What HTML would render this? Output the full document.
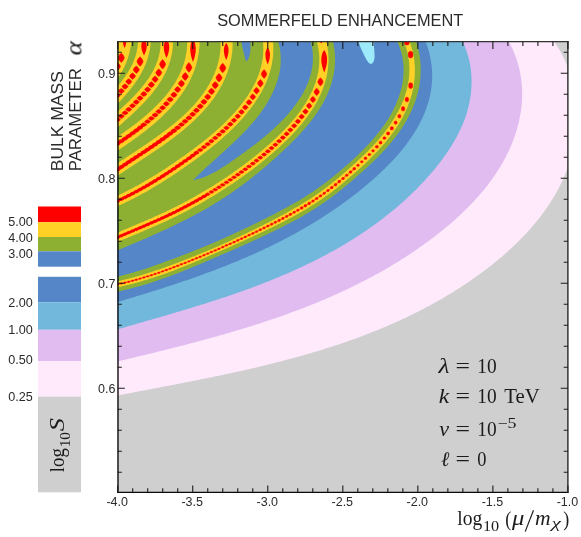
<!DOCTYPE html>
<html><head><meta charset="utf-8"><title>Sommerfeld enhancement</title>
<style>html,body{margin:0;padding:0;background:#fff}svg{display:block;will-change:transform}</style></head>
<body>
<svg width="581" height="537" viewBox="0 0 581 537">
<defs><clipPath id="cp"><rect x="117.5" y="41.5" width="451" height="450.5"/></clipPath></defs>
<rect width="581" height="537" fill="#fff"/>
<g clip-path="url(#cp)">
<rect x="110" y="35" width="470" height="465" fill="#cfcfcf"/>
<path d="M104.5,398 105.9,397.7 107.4,397.4 108.8,397.2 110.3,396.9 111.7,396.6 113.1,396.3 114.6,396 116,395.8 117.5,395.5 119,395.2 120.4,394.9 121.9,394.6 123.3,394.4 124.8,394.1 126.2,393.8 127.7,393.5 129.1,393.2 130.6,393 132.1,392.7 133.5,392.4 135,392.1 136.4,391.9 137.9,391.6 139.4,391.3 140.8,391 142.3,390.7 143.8,390.5 145.2,390.2 146.7,389.9 148.2,389.6 149.6,389.4 151.1,389.1 152.6,388.8 154,388.5 155.5,388.2 157,388 158.4,387.7 159.9,387.4 161.4,387.1 162.8,386.8 164.3,386.6 165.8,386.3 167.3,386 168.7,385.7 170.2,385.4 171.7,385.1 173.2,384.9 174.6,384.6 176.1,384.3 177.6,384 179.1,383.7 180.5,383.4 182,383.1 183.5,382.9 185,382.6 186.4,382.3 187.9,382 189.4,381.7 190.9,381.4 192.3,381.1 193.8,380.8 195.3,380.5 196.8,380.2 198.3,379.9 199.7,379.6 201.2,379.3 202.7,379 204.2,378.7 205.6,378.4 207.1,378.1 208.6,377.8 210.1,377.5 211.6,377.2 213,376.9 214.5,376.6 216,376.3 217.5,376 218.9,375.7 220.4,375.4 221.9,375.1 223.4,374.8 224.8,374.4 226.3,374.1 227.8,373.8 229.3,373.5 230.8,373.2 232.2,372.8 233.7,372.5 235.2,372.2 236.7,371.9 238.1,371.6 239.6,371.2 241.1,370.9 242.6,370.6 244,370.2 245.5,369.9 247,369.6 248.5,369.2 249.9,368.9 251.4,368.5 252.9,368.2 254.3,367.9 255.8,367.5 257.3,367.2 258.8,366.8 260.2,366.5 261.7,366.1 263.2,365.8 264.6,365.4 266.1,365 267.6,364.7 269,364.3 270.5,364 272,363.6 273.4,363.2 274.9,362.9 276.4,362.5 277.8,362.1 279.3,361.7 280.8,361.4 282.2,361 283.7,360.6 285.1,360.2 286.6,359.8 288.1,359.5 289.5,359.1 291,358.7 292.4,358.3 293.9,357.9 295.3,357.5 296.8,357.1 298.2,356.7 299.7,356.3 301.2,355.9 302.6,355.5 304.1,355 305.5,354.6 306.9,354.2 308.4,353.8 309.8,353.4 311.3,353 312.7,352.5 314.2,352.1 315.6,351.7 317.1,351.2 318.5,350.8 319.9,350.4 321.4,349.9 322.8,349.5 324.3,349 325.7,348.6 327.1,348.1 328.6,347.7 330,347.2 331.4,346.7 332.9,346.3 334.3,345.8 335.7,345.3 337.1,344.9 338.6,344.4 340,343.9 341.4,343.4 342.8,343 344.3,342.5 345.7,342 347.1,341.5 348.5,341 349.9,340.5 351.3,340 352.8,339.5 354.2,339 355.6,338.5 357,338 358.4,337.4 359.8,336.9 361.2,336.4 362.6,335.9 364,335.3 365.4,334.8 366.8,334.3 368.2,333.7 369.6,333.2 371,332.6 372.4,332.1 373.8,331.5 375.2,331 376.6,330.4 378,329.9 379.3,329.3 380.7,328.7 382.1,328.2 383.5,327.6 384.9,327 386.2,326.4 387.6,325.8 389,325.2 390.4,324.6 391.7,324 393.1,323.4 394.5,322.8 395.8,322.2 397.2,321.6 398.6,321 399.9,320.4 401.3,319.8 402.6,319.1 404,318.5 405.4,317.9 406.7,317.2 408.1,316.6 409.4,315.9 410.7,315.3 412.1,314.6 413.4,314 414.8,313.3 416.1,312.6 417.4,312 418.8,311.3 420.1,310.6 421.4,309.9 422.8,309.2 424.1,308.5 425.4,307.8 426.7,307.1 428.1,306.4 429.4,305.7 430.7,305 432,304.3 433.3,303.6 434.6,302.8 435.9,302.1 437.3,301.4 438.6,300.6 439.9,299.9 441.2,299.1 442.5,298.4 443.8,297.6 445,296.9 446.3,296.1 447.6,295.3 448.9,294.6 450.2,293.8 451.5,293 452.8,292.2 454,291.4 455.3,290.6 456.6,289.8 457.8,289 459.1,288.2 460.4,287.4 461.6,286.6 462.9,285.7 464.2,284.9 465.4,284.1 466.7,283.2 467.9,282.4 469.2,281.5 470.4,280.7 471.7,279.8 472.9,279 474.1,278.1 475.4,277.2 476.6,276.3 477.8,275.4 479.1,274.6 480.3,273.7 481.5,272.8 482.7,271.9 483.9,270.9 485.2,270 486.4,269.1 487.6,268.2 488.8,267.3 490,266.3 491.2,265.4 492.4,264.4 493.6,263.5 494.7,262.5 495.9,261.6 497.1,260.6 498.3,259.6 499.4,258.6 500.6,257.7 501.8,256.7 502.9,255.7 504.1,254.7 505.2,253.7 506.4,252.7 507.5,251.7 508.6,250.6 509.7,249.6 510.9,248.6 512,247.6 513.1,246.5 514.2,245.5 515.3,244.4 516.4,243.4 517.5,242.3 518.5,241.3 519.6,240.2 520.7,239.1 521.7,238 522.8,236.9 523.8,235.9 524.9,234.8 525.9,233.7 526.9,232.5 527.9,231.4 529,230.3 530,229.2 531,228.1 531.9,226.9 532.9,225.8 533.9,224.6 534.9,223.5 535.8,222.3 536.8,221.2 537.7,220 538.6,218.8 539.6,217.7 540.5,216.5 541.4,215.3 542.3,214.1 543.2,212.9 544,211.7 544.9,210.5 545.8,209.3 546.6,208.1 547.5,206.8 548.3,205.6 549.1,204.4 549.9,203.1 550.7,201.9 551.5,200.6 552.3,199.4 553.1,198.1 553.8,196.9 554.6,195.6 555.3,194.3 556,193 556.8,191.7 557.5,190.4 558.2,189.1 558.9,187.8 559.5,186.5 560.2,185.2 560.8,183.9 561.5,182.6 562.1,181.2 562.7,179.9 563.3,178.5 563.9,177.2 564.5,175.8 565.1,174.5 565.6,173.1 566.2,171.7 566.7,170.4 567.2,169 567.7,167.6 568.2,166.2 568.7,164.8 569.2,163.4 569.6,162 570.1,160.6 570.5,159.2 570.9,157.7 571.3,156.3 571.7,154.9 572.1,153.4 572.4,152 572.8,150.5 573.1,149.1 573.4,147.6 573.7,146.2 574,144.7 574.3,143.3 574.6,141.8 574.8,140.3 575,138.9 575.3,137.4 575.5,135.9 575.7,134.4 575.8,133 576,131.5 576.1,130 576.3,128.5 576.4,127 576.5,125.5 576.6,124.1 576.7,122.6 576.7,121.1 576.8,119.6 576.8,118.1 576.8,116.6 576.8,115.1 576.8,113.6 576.7,112.1 576.7,110.6 576.6,109.1 576.5,107.6 576.4,106.2 576.3,104.7 576.2,103.2 576.1,101.7 575.9,100.2 575.7,98.7 575.5,97.2 575.3,95.7 575.1,94.3 574.8,92.8 574.6,91.3 574.3,89.8 574,88.3 573.7,86.9 573.4,85.4 573,83.9 572.7,82.5 572.3,81 571.9,79.5 571.5,78.1 571.1,76.6 570.6,75.2 570.2,73.8 569.7,72.3 569.2,70.9 568.7,69.4 568.1,68 567.6,66.6 567,65.2 566.4,63.8 565.8,62.4 565.2,60.9 564.5,59.5 563.9,58.2 563.2,56.8 562.5,55.4 561.8,54 561.1,52.6 560.3,51.3 559.5,49.9 558.7,48.6 557.9,47.2 557.1,45.9 556.3,44.5 555.4,43.2 554.5,41.9 553.6,40.6 552.7,39.3 551.7,38 550.8,36.7 549.8,35.4 548.8,34.1 547.8,32.9 546.7,31.6 545.7,30.4 544.6,29.1 544.6,20 100,20 100,398Z" fill="#ffeafc"/>
<path d="M104.4,364.6 105.8,364.2 107.2,363.9 108.7,363.5 110.1,363.2 111.6,362.9 113,362.5 114.5,362.2 115.9,361.8 117.4,361.5 118.8,361.1 120.3,360.8 121.7,360.4 123.2,360.1 124.6,359.7 126.1,359.4 127.5,359.1 129,358.7 130.4,358.4 131.9,358 133.3,357.7 134.8,357.3 136.2,357 137.7,356.6 139.1,356.3 140.6,355.9 142.1,355.6 143.5,355.2 145,354.9 146.4,354.5 147.9,354.1 149.3,353.8 150.8,353.4 152.3,353.1 153.7,352.7 155.2,352.4 156.6,352 158.1,351.6 159.5,351.3 161,350.9 162.5,350.6 163.9,350.2 165.4,349.8 166.8,349.5 168.3,349.1 169.8,348.7 171.2,348.4 172.7,348 174.1,347.6 175.6,347.3 177,346.9 178.5,346.5 180,346.2 181.4,345.8 182.9,345.4 184.3,345 185.8,344.7 187.3,344.3 188.7,343.9 190.2,343.5 191.6,343.1 193.1,342.8 194.5,342.4 196,342 197.5,341.6 198.9,341.2 200.4,340.8 201.8,340.4 203.3,340 204.7,339.6 206.2,339.2 207.7,338.8 209.1,338.4 210.6,338 212,337.6 213.5,337.2 214.9,336.8 216.4,336.4 217.8,336 219.3,335.6 220.7,335.2 222.2,334.8 223.6,334.4 225.1,334 226.5,333.5 228,333.1 229.4,332.7 230.9,332.3 232.3,331.9 233.8,331.4 235.2,331 236.7,330.6 238.1,330.1 239.6,329.7 241,329.3 242.4,328.8 243.9,328.4 245.3,327.9 246.8,327.5 248.2,327.1 249.7,326.6 251.1,326.2 252.5,325.7 254,325.3 255.4,324.8 256.8,324.3 258.3,323.9 259.7,323.4 261.2,322.9 262.6,322.5 264,322 265.4,321.5 266.9,321.1 268.3,320.6 269.7,320.1 271.2,319.6 272.6,319.1 274,318.7 275.4,318.2 276.9,317.7 278.3,317.2 279.7,316.7 281.1,316.2 282.6,315.7 284,315.2 285.4,314.7 286.8,314.2 288.2,313.7 289.6,313.1 291.1,312.6 292.5,312.1 293.9,311.6 295.3,311.1 296.7,310.5 298.1,310 299.5,309.5 300.9,308.9 302.3,308.4 303.7,307.9 305.1,307.3 306.5,306.8 307.9,306.2 309.3,305.7 310.7,305.1 312.1,304.5 313.5,304 314.9,303.4 316.3,302.9 317.7,302.3 319.1,301.7 320.5,301.1 321.8,300.6 323.2,300 324.6,299.4 326,298.8 327.4,298.2 328.7,297.6 330.1,297 331.5,296.4 332.9,295.8 334.2,295.2 335.6,294.6 337,294 338.3,293.3 339.7,292.7 341.1,292.1 342.4,291.5 343.8,290.8 345.2,290.2 346.5,289.6 347.9,288.9 349.2,288.3 350.6,287.6 351.9,287 353.3,286.3 354.6,285.6 356,285 357.3,284.3 358.7,283.6 360,283 361.3,282.3 362.7,281.6 364,280.9 365.3,280.2 366.7,279.5 368,278.8 369.3,278.1 370.7,277.4 372,276.7 373.3,276 374.6,275.3 375.9,274.6 377.3,273.9 378.6,273.1 379.9,272.4 381.2,271.7 382.5,270.9 383.8,270.2 385.1,269.4 386.4,268.7 387.7,267.9 389,267.1 390.3,266.4 391.6,265.6 392.9,264.8 394.2,264.1 395.5,263.3 396.7,262.5 398,261.7 399.3,260.9 400.6,260.1 401.8,259.3 403.1,258.5 404.4,257.7 405.7,256.9 406.9,256 408.2,255.2 409.5,254.4 410.7,253.6 412,252.7 413.2,251.9 414.5,251 415.7,250.2 417,249.3 418.2,248.5 419.5,247.6 420.7,246.7 421.9,245.8 423.2,245 424.4,244.1 425.6,243.2 426.9,242.3 428.1,241.4 429.3,240.5 430.5,239.6 431.7,238.7 433,237.7 434.2,236.8 435.4,235.9 436.6,235 437.8,234 439,233.1 440.2,232.1 441.4,231.2 442.5,230.2 443.7,229.3 444.9,228.3 446.1,227.3 447.3,226.3 448.4,225.4 449.6,224.4 450.7,223.4 451.9,222.4 453,221.4 454.2,220.4 455.3,219.4 456.5,218.3 457.6,217.3 458.7,216.3 459.8,215.3 460.9,214.2 462,213.2 463.1,212.1 464.2,211.1 465.3,210 466.4,209 467.5,207.9 468.5,206.8 469.6,205.7 470.7,204.6 471.7,203.6 472.7,202.5 473.8,201.4 474.8,200.2 475.8,199.1 476.8,198 477.8,196.9 478.8,195.8 479.8,194.6 480.8,193.5 481.8,192.3 482.7,191.2 483.7,190 484.6,188.9 485.6,187.7 486.5,186.5 487.4,185.4 488.3,184.2 489.2,183 490.1,181.8 491,180.6 491.9,179.4 492.7,178.2 493.6,177 494.4,175.7 495.3,174.5 496.1,173.3 496.9,172.1 497.7,170.8 498.5,169.6 499.3,168.3 500.1,167 500.8,165.8 501.6,164.5 502.3,163.2 503.1,161.9 503.8,160.6 504.5,159.3 505.2,158 505.9,156.7 506.5,155.4 507.2,154.1 507.9,152.8 508.5,151.4 509.1,150.1 509.7,148.8 510.3,147.4 510.9,146.1 511.5,144.7 512,143.3 512.6,142 513.1,140.6 513.6,139.2 514.1,137.8 514.6,136.4 515.1,135 515.6,133.7 516,132.2 516.5,130.8 516.9,129.4 517.3,128 517.7,126.6 518.1,125.2 518.4,123.7 518.8,122.3 519.1,120.9 519.4,119.4 519.7,118 520,116.6 520.3,115.1 520.5,113.7 520.7,112.2 521,110.8 521.2,109.3 521.3,107.9 521.5,106.4 521.6,104.9 521.8,103.5 521.9,102 522,100.5 522,99.1 522.1,97.6 522.1,96.1 522.2,94.7 522.2,93.2 522.1,91.7 522.1,90.2 522,88.8 522,87.3 521.9,85.8 521.8,84.3 521.6,82.9 521.5,81.4 521.3,79.9 521.1,78.4 520.9,76.9 520.6,75.5 520.4,74 520.1,72.5 519.8,71.1 519.5,69.6 519.1,68.1 518.7,66.6 518.4,65.2 517.9,63.7 517.5,62.2 517.1,60.8 516.6,59.3 516.1,57.8 515.6,56.4 515,54.9 514.4,53.5 513.8,52 513.2,50.6 512.6,49.1 511.9,47.7 511.2,46.2 510.5,44.8 509.8,43.4 509,41.9 508.2,40.5 507.4,39.1 506.6,37.7 505.7,36.3 504.8,34.8 503.9,33.4 503,32 502,30.6 501,29.2 501,20 100,20 100,364.6Z" fill="#e0bcf0"/>
<path d="M104.1,333.2 105.5,332.8 107,332.4 108.4,332 109.8,331.5 111.3,331.1 112.7,330.7 114.2,330.3 115.6,329.9 117.1,329.5 118.5,329 119.9,328.6 121.4,328.2 122.8,327.8 124.3,327.4 125.7,327 127.2,326.5 128.6,326.1 130.1,325.7 131.5,325.3 133,324.9 134.4,324.5 135.9,324.1 137.3,323.6 138.8,323.2 140.2,322.8 141.7,322.4 143.1,322 144.6,321.6 146,321.1 147.5,320.7 148.9,320.3 150.4,319.9 151.8,319.5 153.3,319.1 154.7,318.6 156.2,318.2 157.7,317.8 159.1,317.4 160.6,317 162,316.5 163.5,316.1 164.9,315.7 166.4,315.3 167.8,314.8 169.3,314.4 170.7,314 172.2,313.6 173.6,313.1 175.1,312.7 176.5,312.3 178,311.8 179.4,311.4 180.9,311 182.3,310.5 183.8,310.1 185.2,309.7 186.7,309.2 188.1,308.8 189.6,308.4 191,307.9 192.5,307.5 193.9,307 195.3,306.6 196.8,306.1 198.2,305.7 199.7,305.2 201.1,304.8 202.6,304.3 204,303.9 205.4,303.4 206.9,303 208.3,302.5 209.8,302.1 211.2,301.6 212.6,301.1 214.1,300.7 215.5,300.2 217,299.7 218.4,299.3 219.8,298.8 221.3,298.3 222.7,297.8 224.1,297.4 225.6,296.9 227,296.4 228.4,295.9 229.8,295.4 231.3,294.9 232.7,294.5 234.1,294 235.6,293.5 237,293 238.4,292.5 239.8,292 241.2,291.5 242.7,291 244.1,290.4 245.5,289.9 246.9,289.4 248.3,288.9 249.7,288.4 251.2,287.9 252.6,287.3 254,286.8 255.4,286.3 256.8,285.8 258.2,285.2 259.6,284.7 261,284.2 262.4,283.6 263.8,283.1 265.2,282.5 266.6,282 268,281.4 269.4,280.9 270.8,280.3 272.2,279.7 273.6,279.2 275,278.6 276.4,278 277.8,277.5 279.2,276.9 280.5,276.3 281.9,275.7 283.3,275.1 284.7,274.5 286.1,274 287.4,273.4 288.8,272.8 290.2,272.2 291.6,271.5 292.9,270.9 294.3,270.3 295.7,269.7 297,269.1 298.4,268.5 299.8,267.8 301.1,267.2 302.5,266.6 303.8,265.9 305.2,265.3 306.5,264.6 307.9,264 309.2,263.3 310.6,262.7 311.9,262 313.3,261.4 314.6,260.7 315.9,260 317.3,259.3 318.6,258.7 319.9,258 321.3,257.3 322.6,256.6 323.9,255.9 325.3,255.2 326.6,254.5 327.9,253.8 329.2,253.1 330.5,252.3 331.8,251.6 333.2,250.9 334.5,250.2 335.8,249.4 337.1,248.7 338.4,247.9 339.7,247.2 341,246.4 342.3,245.7 343.6,244.9 344.8,244.2 346.1,243.4 347.4,242.6 348.7,241.8 350,241 351.3,240.3 352.5,239.5 353.8,238.7 355.1,237.9 356.3,237 357.6,236.2 358.9,235.4 360.1,234.6 361.4,233.8 362.6,232.9 363.9,232.1 365.1,231.2 366.4,230.4 367.6,229.5 368.9,228.7 370.1,227.8 371.3,226.9 372.6,226.1 373.8,225.2 375,224.3 376.3,223.4 377.5,222.5 378.7,221.6 379.9,220.7 381.1,219.8 382.3,218.9 383.5,217.9 384.7,217 385.9,216.1 387.1,215.1 388.3,214.2 389.5,213.2 390.7,212.3 391.9,211.3 393,210.4 394.2,209.4 395.4,208.4 396.5,207.4 397.7,206.4 398.8,205.5 400,204.5 401.1,203.5 402.3,202.4 403.4,201.4 404.6,200.4 405.7,199.4 406.8,198.4 407.9,197.3 409,196.3 410.1,195.2 411.2,194.2 412.3,193.1 413.4,192.1 414.5,191 415.6,189.9 416.7,188.9 417.7,187.8 418.8,186.7 419.9,185.6 420.9,184.5 422,183.4 423,182.3 424.1,181.2 425.1,180 426.1,178.9 427.1,177.8 428.1,176.6 429.1,175.5 430.1,174.4 431.1,173.2 432.1,172 433.1,170.9 434.1,169.7 435.1,168.5 436,167.4 437,166.2 437.9,165 438.9,163.8 439.8,162.6 440.7,161.4 441.6,160.2 442.5,158.9 443.4,157.7 444.3,156.5 445.2,155.3 446.1,154 446.9,152.8 447.8,151.5 448.6,150.3 449.4,149 450.3,147.7 451.1,146.5 451.9,145.2 452.6,143.9 453.4,142.6 454.2,141.3 454.9,140 455.6,138.7 456.4,137.4 457.1,136.1 457.8,134.8 458.4,133.4 459.1,132.1 459.7,130.8 460.4,129.4 461,128.1 461.6,126.7 462.2,125.4 462.8,124 463.3,122.6 463.9,121.3 464.4,119.9 464.9,118.5 465.4,117.1 465.9,115.7 466.3,114.3 466.8,112.9 467.2,111.5 467.6,110.1 468,108.6 468.3,107.2 468.7,105.8 469,104.3 469.3,102.9 469.6,101.5 469.9,100 470.1,98.6 470.4,97.1 470.6,95.7 470.8,94.2 471,92.8 471.1,91.3 471.2,89.8 471.3,88.4 471.4,86.9 471.5,85.4 471.5,83.9 471.6,82.5 471.6,81 471.6,79.5 471.5,78 471.4,76.6 471.4,75.1 471.2,73.6 471.1,72.1 470.9,70.6 470.8,69.1 470.6,67.7 470.3,66.2 470.1,64.7 469.8,63.2 469.5,61.7 469.2,60.2 468.8,58.8 468.4,57.3 468,55.8 467.6,54.3 467.1,52.9 466.7,51.4 466.1,49.9 465.6,48.4 465,47 464.5,45.5 463.8,44 463.2,42.6 462.5,41.1 461.8,39.7 461.1,38.2 460.3,36.8 459.6,35.3 458.7,33.9 457.9,32.4 457,31 456.1,29.6 456.1,20 100,20 100,333.2Z" fill="#72b8dc"/>
<path d="M103.9,306 105.4,305.6 106.8,305.1 108.3,304.7 109.7,304.3 111.2,303.9 112.7,303.4 114.1,303 115.6,302.6 117,302.1 118.5,301.7 119.9,301.3 121.4,300.9 122.8,300.4 124.3,300 125.7,299.6 127.2,299.1 128.6,298.7 130.1,298.2 131.5,297.8 133,297.4 134.4,296.9 135.9,296.5 137.3,296.1 138.8,295.6 140.2,295.2 141.6,294.7 143.1,294.3 144.5,293.8 146,293.4 147.4,292.9 148.9,292.5 150.3,292.1 151.7,291.6 153.2,291.1 154.6,290.7 156.1,290.2 157.5,289.8 158.9,289.3 160.4,288.9 161.8,288.4 163.3,288 164.7,287.5 166.1,287 167.6,286.6 169,286.1 170.4,285.6 171.9,285.2 173.3,284.7 174.7,284.2 176.1,283.7 177.6,283.3 179,282.8 180.4,282.3 181.9,281.8 183.3,281.3 184.7,280.8 186.1,280.4 187.5,279.9 189,279.4 190.4,278.9 191.8,278.4 193.2,277.9 194.6,277.4 196.1,276.9 197.5,276.4 198.9,275.9 200.3,275.4 201.7,274.9 203.1,274.4 204.5,273.8 205.9,273.3 207.4,272.8 208.8,272.3 210.2,271.8 211.6,271.2 213,270.7 214.4,270.2 215.8,269.7 217.2,269.1 218.6,268.6 220,268 221.4,267.5 222.8,267 224.2,266.4 225.6,265.9 227,265.3 228.3,264.8 229.7,264.2 231.1,263.6 232.5,263.1 233.9,262.5 235.3,261.9 236.7,261.4 238,260.8 239.4,260.2 240.8,259.6 242.2,259 243.6,258.5 244.9,257.9 246.3,257.3 247.7,256.7 249.1,256.1 250.4,255.5 251.8,254.9 253.2,254.3 254.5,253.7 255.9,253 257.3,252.4 258.6,251.8 260,251.2 261.3,250.5 262.7,249.9 264,249.3 265.4,248.6 266.7,248 268.1,247.4 269.4,246.7 270.8,246.1 272.1,245.4 273.5,244.7 274.8,244.1 276.2,243.4 277.5,242.7 278.8,242.1 280.2,241.4 281.5,240.7 282.9,240 284.2,239.3 285.5,238.6 286.8,238 288.2,237.2 289.5,236.5 290.8,235.8 292.1,235.1 293.5,234.4 294.8,233.7 296.1,233 297.4,232.2 298.7,231.5 300,230.8 301.3,230 302.6,229.3 303.9,228.5 305.2,227.8 306.5,227 307.8,226.3 309.1,225.5 310.4,224.7 311.7,223.9 313,223.2 314.3,222.4 315.6,221.6 316.9,220.8 318.2,220 319.4,219.2 320.7,218.4 322,217.6 323.3,216.8 324.5,215.9 325.8,215.1 327.1,214.3 328.4,213.5 329.6,212.6 330.9,211.8 332.1,210.9 333.4,210.1 334.7,209.2 335.9,208.3 337.2,207.5 338.4,206.6 339.7,205.7 340.9,204.8 342.1,203.9 343.4,203.1 344.6,202.2 345.9,201.3 347.1,200.3 348.3,199.4 349.6,198.5 350.8,197.6 352,196.7 353.2,195.7 354.5,194.8 355.7,193.8 356.9,192.9 358.1,191.9 359.3,191 360.5,190 361.7,189 362.9,188 364.1,187.1 365.3,186.1 366.5,185.1 367.7,184.1 368.9,183.1 370.1,182 371.3,181 372.4,180 373.6,179 374.8,177.9 375.9,176.9 377.1,175.9 378.2,174.8 379.4,173.8 380.5,172.7 381.6,171.6 382.7,170.6 383.9,169.5 385,168.4 386.1,167.3 387.2,166.2 388.2,165.1 389.3,164 390.4,162.9 391.5,161.8 392.5,160.7 393.6,159.6 394.6,158.4 395.6,157.3 396.6,156.2 397.6,155 398.6,153.9 399.6,152.7 400.6,151.5 401.6,150.4 402.5,149.2 403.5,148 404.4,146.9 405.3,145.7 406.2,144.5 407.1,143.3 408,142.1 408.9,140.9 409.7,139.6 410.6,138.4 411.4,137.2 412.3,136 413.1,134.7 413.9,133.5 414.6,132.3 415.4,131 416.2,129.8 416.9,128.5 417.6,127.2 418.3,126 419,124.7 419.7,123.4 420.4,122.1 421,120.8 421.7,119.5 422.3,118.2 422.9,116.9 423.5,115.6 424,114.3 424.6,113 425.1,111.7 425.6,110.3 426.1,109 426.6,107.6 427.1,106.3 427.5,104.9 427.9,103.6 428.3,102.2 428.7,100.9 429.1,99.5 429.4,98.1 429.8,96.7 430.1,95.3 430.4,94 430.6,92.6 430.9,91.2 431.1,89.7 431.3,88.3 431.5,86.9 431.7,85.5 431.8,84.1 431.9,82.6 432,81.2 432.1,79.8 432.1,78.3 432.2,76.9 432.2,75.4 432.2,74 432.1,72.5 432,71 432,69.6 431.8,68.1 431.7,66.6 431.5,65.1 431.3,63.7 431.1,62.2 430.9,60.7 430.6,59.2 430.3,57.7 430,56.2 429.7,54.7 429.3,53.1 428.9,51.6 428.4,50.1 428,48.6 427.5,47.1 427,45.5 426.5,44 425.9,42.5 425.3,40.9 424.6,39.4 424,37.8 423.3,36.3 422.6,34.7 421.8,33.2 421,31.6 420.2,30.1 419.4,28.5 419.4,20 100,20 100,306Z" fill="#5486c8"/>
<path d="M356.5,35.9 356.8,37 357.2,38 357.5,39 357.8,40 358.1,41 358.5,42 358.8,42.9 359.2,43.9 359.5,44.8 359.9,45.7 360.2,46.6 360.6,47.5 361,48.5 361.4,49.4 361.8,50.3 362.2,51.2 362.6,52.1 363.1,53 363.5,54 364,54.9 364.5,55.9 365,56.9 365.5,57.8 366,58.9 366.6,59.9 367.2,60.8 367.8,61.8 368.5,62.6 369.2,63.2 369.9,63.6 370.7,63.9 371.5,63.8 372.3,63.3 372.9,62.6 373.5,61.8 373.9,60.8 374.2,59.8 374.4,58.8 374.5,57.7 374.6,56.6 374.6,55.5 374.5,54.4 374.5,53.4 374.4,52.3 374.3,51.2 374.3,50.2 374.2,49.2 374.1,48.2 374,47.2 374,46.1 373.9,45.1 373.8,44.1 373.7,43.1 373.7,42.1 373.6,41.1 373.5,40.1 373.5,39.1 373.5,38.1 373.4,37 373.4,36Z" fill="#9debfa"/>
<path d="M104,255.8 105.4,255.3 106.8,254.7 108.2,254.1 109.5,253.6 110.9,253 112.3,252.4 113.7,251.9 115.1,251.3 116.4,250.7 117.8,250.1 119.2,249.6 120.6,249 122,248.4 123.4,247.8 124.8,247.3 126.2,246.7 127.5,246.1 128.9,245.5 130.3,244.9 131.7,244.3 133.1,243.7 134.5,243.2 135.9,242.6 137.3,242 138.7,241.4 140.1,240.8 141.5,240.2 142.9,239.6 144.3,239 145.7,238.4 147,237.8 148.4,237.2 149.8,236.5 151.2,235.9 152.6,235.3 154,234.7 155.4,234.1 156.8,233.5 158.2,232.8 159.6,232.2 160.9,231.6 162.3,230.9 163.7,230.3 165.1,229.7 166.5,229 167.9,228.4 169.2,227.7 170.6,227.1 172,226.4 173.4,225.8 174.7,225.1 176.1,224.4 177.5,223.8 178.8,223.1 180.2,222.4 181.6,221.8 182.9,221.1 184.3,220.4 185.6,219.7 187,219 188.4,218.3 189.7,217.6 191,216.9 192.4,216.2 193.7,215.5 195.1,214.8 196.4,214.1 197.7,213.4 199.1,212.6 200.4,211.9 201.7,211.2 203,210.4 204.4,209.7 205.7,208.9 207,208.2 208.3,207.4 209.6,206.7 210.9,205.9 212.2,205.1 213.5,204.4 214.8,203.6 216,202.8 217.3,202 218.6,201.2 219.9,200.4 221.1,199.6 222.4,198.8 223.7,198 224.9,197.2 226.2,196.4 227.4,195.5 228.7,194.7 229.9,193.9 231.1,193 232.4,192.2 233.6,191.3 234.8,190.4 236,189.6 237.3,188.7 238.5,187.8 239.7,187 240.9,186.1 242.1,185.2 243.3,184.3 244.5,183.4 245.7,182.5 246.9,181.6 248.1,180.7 249.2,179.8 250.4,178.8 251.6,177.9 252.8,177 254,176.1 255.1,175.1 256.3,174.2 257.5,173.2 258.6,172.3 259.8,171.3 260.9,170.3 262.1,169.4 263.3,168.4 264.4,167.4 265.6,166.5 266.7,165.5 267.9,164.5 269,163.5 270.1,162.5 271.3,161.5 272.4,160.5 273.6,159.5 274.7,158.5 275.8,157.4 277,156.4 278.1,155.4 279.2,154.3 280.3,153.3 281.5,152.3 282.6,151.2 283.7,150.2 284.8,149.1 286,148.1 287.1,147 288.2,145.9 289.3,144.9 290.4,143.8 291.5,142.7 292.6,141.6 293.7,140.5 294.8,139.4 295.8,138.3 296.9,137.2 298,136.1 299,135 300.1,133.9 301.1,132.7 302.1,131.6 303.2,130.4 304.2,129.3 305.2,128.1 306.2,127 307.2,125.8 308.1,124.6 309.1,123.5 310,122.3 311,121.1 311.9,119.9 312.8,118.7 313.7,117.5 314.6,116.3 315.5,115 316.4,113.8 317.2,112.6 318,111.3 318.8,110.1 319.6,108.8 320.4,107.5 321.2,106.3 322,105 322.7,103.7 323.4,102.4 324.1,101.1 324.8,99.8 325.5,98.4 326.1,97.1 326.7,95.8 327.3,94.4 327.9,93.1 328.5,91.7 329,90.3 329.5,89 330.1,87.6 330.5,86.2 331,84.8 331.4,83.3 331.8,81.9 332.2,80.5 332.6,79.1 332.9,77.6 333.3,76.1 333.5,74.7 333.8,73.2 334.1,71.7 334.3,70.2 334.5,68.8 334.6,67.3 334.8,65.8 334.9,64.3 334.9,62.8 335,61.2 335,59.7 335,58.2 335,56.7 334.9,55.2 334.8,53.6 334.7,52.1 334.5,50.6 334.4,49.1 334.1,47.5 333.9,46 333.6,44.5 333.3,42.9 332.9,41.4 332.6,39.9 332.1,38.4 331.7,36.9 331.2,35.3 330.7,33.8 100,34 100,255Z" fill="#8db033"/>
<path d="M193.2,180.1 194.2,179.1 195.3,178 196.3,177 197.4,175.9 198.4,174.9 199.5,173.8 200.6,172.8 201.7,171.7 202.8,170.7 203.9,169.7 205,168.6 206.1,167.6 207.2,166.6 208.3,165.6 209.4,164.5 210.6,163.5 211.7,162.5 212.8,161.5 213.9,160.4 215.1,159.4 216.2,158.4 217.3,157.4 218.5,156.3 219.6,155.3 220.7,154.3 221.9,153.3 223,152.2 224.1,151.2 225.3,150.2 226.4,149.1 227.5,148.1 228.7,147.1 229.8,146 230.9,145 232,143.9 233.1,142.9 234.3,141.8 235.4,140.8 236.5,139.7 237.6,138.7 238.7,137.6 239.7,136.5 240.8,135.4 241.9,134.3 243,133.3 244,132.2 245.1,131.1 246.1,130 247.2,128.9 248.2,127.7 249.2,126.6 250.3,125.5 251.3,124.3 252.3,123.2 253.2,122 254.2,120.9 255.2,119.7 256.1,118.5 257.1,117.4 258,116.2 258.9,115 259.9,113.8 260.8,112.5 261.6,111.3 262.5,110.1 263.4,108.8 264.2,107.6 265.1,106.3 265.9,105 266.7,103.7 267.5,102.5 268.2,101.1 269,99.8 269.7,98.5 270.4,97.2 271.2,95.8 271.8,94.5 272.5,93.1 273.1,91.7 273.8,90.3 274.4,89 274.9,87.6 275.5,86.1 276,84.7 276.5,83.3 277,81.9 277.5,80.5 277.9,79 278.3,77.6 278.7,76.1 279,74.7 279.3,73.2 279.6,71.7 279.9,70.2 280.1,68.8 280.3,67.3 280.5,65.8 280.6,64.3 280.7,62.8 280.7,61.3 280.8,59.8 280.7,58.3 280.7,56.8 280.6,55.2 280.5,53.7 280.3,52.2 280.1,50.7 279.9,49.1 279.6,47.6 279.3,46.1 278.9,44.6 278.6,43 278.2,41.5 277.8,40 277.4,38.5 277.1,36.9 276.7,35.4 276.4,33.9 308.3,33.7 308.9,35.3 309.4,36.9 310,38.5 310.4,40.1 310.9,41.7 311.2,43.2 311.6,44.8 311.9,46.4 312.2,47.9 312.4,49.5 312.6,51 312.7,52.5 312.8,54.1 312.9,55.6 312.9,57.1 312.9,58.6 312.9,60.1 312.8,61.6 312.7,63.1 312.5,64.5 312.4,66 312.2,67.5 311.9,68.9 311.6,70.3 311.3,71.8 311,73.2 310.6,74.6 310.2,76 309.8,77.5 309.4,78.8 308.9,80.2 308.4,81.6 307.8,83 307.3,84.4 306.7,85.7 306.1,87.1 305.5,88.4 304.8,89.7 304.1,91.1 303.4,92.4 302.7,93.7 302,95 301.2,96.3 300.4,97.6 299.6,98.8 298.8,100.1 297.9,101.3 297.1,102.6 296.2,103.8 295.3,105.1 294.4,106.3 293.5,107.5 292.5,108.7 291.6,109.9 290.6,111.1 289.6,112.2 288.6,113.4 287.6,114.6 286.6,115.7 285.6,116.9 284.5,118 283.5,119.1 282.4,120.2 281.4,121.3 280.3,122.4 279.2,123.5 278.1,124.5 277,125.6 275.9,126.6 274.8,127.7 273.7,128.7 272.6,129.7 271.5,130.8 270.4,131.8 269.2,132.8 268.1,133.8 266.9,134.8 265.8,135.7 264.6,136.7 263.4,137.7 262.3,138.6 261.1,139.6 259.9,140.5 258.7,141.5 257.6,142.4 256.4,143.3 255.2,144.2 254,145.2 252.8,146.1 251.6,147 250.4,147.9 249.1,148.8 247.9,149.7 246.7,150.6 245.5,151.5 244.3,152.4 243,153.2 241.8,154.1 240.6,155 239.3,155.9 238.1,156.7 236.9,157.6 235.6,158.5 234.4,159.4 233.2,160.2 231.9,161.1 230.7,162 229.4,162.8 228.2,163.7 226.9,164.5 225.7,165.4 224.4,166.2 223.1,167 221.9,167.8 220.6,168.6 219.3,169.4 218,170.2 216.7,170.9 215.4,171.7 214.1,172.4 212.8,173.1 211.4,173.8 210.1,174.5 208.7,175.1 207.4,175.7 206,176.3 204.6,176.9 203.2,177.4 201.8,177.9 200.3,178.4 198.9,178.8 197.4,179.2 196,179.6 194.5,180 193,180.3Z" fill="#5486c8"/>
<path d="M241,34 241,35.1 241,36.1 241,37.2 241,38.2 241.1,39.3 241.2,40.3 241.3,41.4 241.5,42.4 241.7,43.5 241.8,44.5 242,45.6 242.2,46.6 242.5,47.6 242.7,48.7 242.9,49.7 243.2,50.7 243.4,51.8 243.7,52.8 244,53.8 244.2,54.8 244.5,55.9 244.8,56.9 245,57.9 245.3,58.9 245.5,60 245.8,61 246,62 246,62 246.7,61.1 247.4,60.2 248,59.3 248.5,58.4 248.9,57.4 249.3,56.4 249.6,55.4 249.8,54.4 250,53.4 250.2,52.3 250.3,51.3 250.4,50.2 250.5,49.2 250.5,48.1 250.5,47 250.5,45.9 250.4,44.8 250.4,43.7 250.4,42.6 250.3,41.5 250.3,40.4 250.3,39.3 250.2,38.2 250.2,37.2 250.3,36.1 250.3,35 250.4,34Z" fill="#5486c8"/>
<path d="M102.7,279.5 103.7,279.4 104.7,279.2 105.7,279 106.6,278.8 107.6,278.6 108.6,278.5 109.5,278.3 110.5,278.1 111.5,277.9 112.4,277.7 113.4,277.5 114.3,277.3 115.3,277 116.3,276.8 117.2,276.6 118.2,276.4 119.1,276.2 120.1,275.9 121,275.7 122,275.5 122.9,275.2 123.9,275 124.8,274.7 125.8,274.5 126.7,274.2 127.7,274 128.6,273.7 129.6,273.5 130.5,273.2 131.5,272.9 132.4,272.7 133.4,272.4 134.3,272.1 135.2,271.9 136.2,271.6 137.1,271.3 138,271 139,270.7 139.9,270.4 140.9,270.2 141.8,269.9 142.7,269.6 143.7,269.3 144.6,269 145.5,268.7 146.5,268.4 147.4,268 148.3,267.7 149.2,267.4 150.2,267.1 151.1,266.8 152,266.5 153,266.1 153.9,265.8 154.8,265.5 155.7,265.2 156.7,264.8 157.6,264.5 158.5,264.2 159.4,263.8 160.4,263.5 161.3,263.2 162.2,262.8 163.1,262.5 164.1,262.1 165,261.8 165.9,261.5 166.8,261.1 167.8,260.8 168.7,260.5 169.6,260.1 170.6,259.8 171.5,259.5 172.4,259.1 173.3,258.8 174.3,258.4 175.2,258.1 176.1,257.8 177,257.4 178,257.1 178.9,256.7 179.8,256.4 180.8,256 181.7,255.6 182.6,255.3 183.5,254.9 184.5,254.6 185.4,254.2 186.3,253.9 187.2,253.5 188.2,253.1 189.1,252.8 190,252.4 190.9,252 191.9,251.7 192.8,251.3 193.7,250.9 194.6,250.6 195.6,250.2 196.5,249.8 197.4,249.4 198.3,249.1 199.3,248.7 200.2,248.3 201.1,247.9 202,247.6 203,247.2 203.9,246.8 204.8,246.4 205.7,246 206.7,245.7 207.6,245.3 208.5,244.9 209.4,244.5 210.4,244.1 211.3,243.8 212.2,243.4 213.1,243 214,242.6 215,242.2 215.9,241.8 216.8,241.4 217.7,241 218.6,240.6 219.5,240.2 220.5,239.8 221.4,239.4 222.3,239 223.2,238.6 224.1,238.2 225,237.7 225.9,237.3 226.8,236.9 227.7,236.5 228.7,236.1 229.6,235.7 230.5,235.3 231.4,234.8 232.3,234.4 233.2,234 234.1,233.6 235,233.2 235.9,232.8 236.8,232.3 237.7,231.9 238.6,231.5 239.6,231.1 240.5,230.6 241.4,230.2 242.3,229.8 243.2,229.4 244.1,228.9 245,228.5 245.9,228.1 246.8,227.7 247.7,227.2 248.6,226.8 249.5,226.4 250.4,225.9 251.3,225.5 252.2,225.1 253.1,224.6 254,224.2 254.9,223.7 255.8,223.3 256.7,222.9 257.6,222.4 258.5,222 259.4,221.6 260.3,221.1 261.1,220.7 262,220.2 262.9,219.8 263.8,219.3 264.7,218.9 265.6,218.4 266.5,218 267.4,217.5 268.3,217.1 269.2,216.6 270,216.2 270.9,215.7 271.8,215.3 272.7,214.8 273.6,214.4 274.5,213.9 275.3,213.5 276.2,213 277.1,212.6 278,212.1 278.8,211.6 279.7,211.2 280.6,210.7 281.5,210.2 282.3,209.8 283.2,209.3 284.1,208.8 284.9,208.4 285.8,207.9 286.7,207.4 287.5,207 288.4,206.5 289.2,206 290.1,205.5 291,205.1 291.8,204.6 292.7,204.1 293.5,203.6 294.4,203.1 295.2,202.7 296.1,202.2 296.9,201.7 297.7,201.2 298.6,200.7 299.4,200.2 300.3,199.7 301.1,199.2 301.9,198.7 302.8,198.2 303.6,197.7 304.4,197.2 305.2,196.7 306.1,196.2 306.9,195.6 307.7,195.1 308.5,194.6 309.3,194.1 310.1,193.5 310.9,193 311.7,192.5 312.5,191.9 313.3,191.4 314.1,190.9 314.9,190.3 315.7,189.8 316.5,189.2 317.3,188.7 318.1,188.1 318.9,187.5 319.7,187 320.5,186.4 321.2,185.8 322,185.3 322.8,184.7 323.6,184.1 324.4,183.5 325.1,183 325.9,182.4 326.7,181.8 327.5,181.2 328.2,180.6 329,180 329.8,179.4 330.5,178.8 331.3,178.2 332.1,177.6 332.8,176.9 333.6,176.3 334.3,175.7 335.1,175.1 335.9,174.5 336.6,173.8 337.4,173.2 338.1,172.6 338.9,172 339.7,171.3 340.4,170.7 341.2,170 341.9,169.4 342.7,168.8 343.4,168.1 344.2,167.5 344.9,166.8 345.7,166.1 346.4,165.5 347.2,164.8 347.9,164.2 348.7,163.5 349.4,162.9 350.2,162.2 350.9,161.5 351.6,160.8 352.4,160.2 353.1,159.5 353.8,158.8 354.6,158.1 355.3,157.4 356,156.7 356.7,156 357.5,155.4 358.2,154.7 358.9,154 359.6,153.3 360.3,152.6 361,151.9 361.7,151.2 362.4,150.5 363.1,149.8 363.8,149.1 364.5,148.4 365.2,147.6 365.9,146.9 366.6,146.2 367.2,145.5 367.9,144.8 368.6,144.1 369.2,143.4 369.9,142.6 370.6,141.9 371.2,141.2 371.9,140.4 372.5,139.7 373.2,139 373.8,138.3 374.4,137.5 375.1,136.8 375.7,136 376.3,135.3 376.9,134.5 377.5,133.8 378.1,133 378.7,132.3 379.3,131.5 379.9,130.8 380.5,130 381.1,129.3 381.7,128.5 382.2,127.7 382.8,127 383.3,126.2 383.9,125.4 384.4,124.7 385,123.9 385.5,123.1 386,122.3 386.5,121.5 387.1,120.8 387.6,120 388.1,119.2 388.6,118.4 389,117.6 389.5,116.8 390,116 390.5,115.2 390.9,114.4 391.4,113.6 391.8,112.8 392.3,112 392.7,111.1 393.1,110.3 393.5,109.5 393.9,108.7 394.3,107.8 394.7,107 395.1,106.2 395.5,105.4 395.9,104.5 396.2,103.7 396.6,102.8 396.9,102 397.3,101.1 397.6,100.3 397.9,99.4 398.2,98.6 398.5,97.7 398.8,96.9 399.1,96 399.4,95.1 399.7,94.3 399.9,93.4 400.2,92.5 400.5,91.7 400.7,90.8 400.9,89.9 401.2,89.1 401.4,88.2 401.6,87.3 401.8,86.4 402,85.5 402.1,84.7 402.3,83.8 402.4,82.9 402.6,82 402.7,81.1 402.9,80.3 403,79.4 403.1,78.5 403.2,77.6 403.3,76.7 403.3,75.8 403.4,74.9 403.5,74 403.5,73.2 403.5,72.3 403.5,71.4 403.6,70.5 403.6,69.6 403.5,68.7 403.5,67.8 403.5,66.9 403.4,66.1 403.4,65.2 403.3,64.3 403.2,63.4 403.1,62.5 403,61.6 402.9,60.7 402.8,59.9 402.7,59 402.5,58.1 402.4,57.2 402.2,56.3 402,55.4 401.8,54.6 401.6,53.7 401.4,52.8 401.1,51.9 400.9,51 400.6,50.2 400.3,49.3 400,48.4 399.7,47.5 399.4,46.7 399.1,45.8 398.7,44.9 398.4,44.1 398,43.2 397.6,42.3 397.2,41.4 396.8,40.6 396.4,39.7 412,32 412.5,33.1 413,34.1 413.5,35.2 414,36.3 414.4,37.4 414.9,38.5 415.3,39.6 415.7,40.7 416.1,41.8 416.5,42.9 416.8,44 417.2,45.1 417.5,46.2 417.8,47.4 418.1,48.5 418.4,49.6 418.6,50.7 418.9,51.8 419.1,52.9 419.3,54 419.5,55.1 419.7,56.3 419.9,57.4 420,58.5 420.2,59.6 420.3,60.7 420.4,61.8 420.5,62.9 420.6,64 420.6,65.1 420.7,66.2 420.7,67.3 420.7,68.4 420.7,69.5 420.7,70.7 420.7,71.7 420.7,72.8 420.6,73.9 420.6,75 420.5,76.1 420.4,77.2 420.3,78.3 420.2,79.4 420.1,80.5 420,81.6 419.8,82.6 419.6,83.7 419.5,84.8 419.3,85.8 419.1,86.9 418.9,88 418.7,89 418.4,90.1 418.2,91.1 417.9,92.2 417.7,93.2 417.4,94.3 417.1,95.3 416.8,96.4 416.5,97.4 416.2,98.4 415.9,99.5 415.6,100.5 415.2,101.5 414.8,102.5 414.5,103.5 414.1,104.5 413.7,105.5 413.3,106.5 412.9,107.5 412.5,108.5 412.1,109.5 411.6,110.4 411.2,111.4 410.7,112.4 410.3,113.3 409.8,114.3 409.3,115.2 408.8,116.2 408.3,117.1 407.8,118.1 407.3,119 406.8,119.9 406.3,120.8 405.8,121.8 405.2,122.7 404.7,123.6 404.1,124.5 403.6,125.4 403,126.3 402.4,127.2 401.9,128 401.3,128.9 400.7,129.8 400.1,130.7 399.5,131.5 398.9,132.4 398.3,133.2 397.7,134.1 397,134.9 396.4,135.8 395.8,136.6 395.1,137.5 394.5,138.3 393.8,139.1 393.2,139.9 392.5,140.8 391.9,141.6 391.2,142.4 390.5,143.2 389.8,144 389.2,144.8 388.5,145.6 387.8,146.4 387.1,147.2 386.4,148 385.7,148.7 385,149.5 384.3,150.3 383.6,151.1 382.8,151.8 382.1,152.6 381.4,153.4 380.7,154.1 379.9,154.9 379.2,155.6 378.5,156.4 377.7,157.1 377,157.8 376.3,158.6 375.5,159.3 374.8,160 374,160.8 373.3,161.5 372.5,162.2 371.8,162.9 371,163.7 370.2,164.4 369.5,165.1 368.7,165.8 368,166.5 367.2,167.2 366.4,167.9 365.7,168.6 364.9,169.3 364.1,170 363.3,170.7 362.6,171.4 361.8,172.1 361,172.7 360.3,173.4 359.5,174.1 358.7,174.8 358,175.5 357.2,176.1 356.4,176.8 355.7,177.5 354.9,178.2 354.1,178.9 353.3,179.5 352.6,180.2 351.8,180.9 351,181.5 350.2,182.2 349.5,182.9 348.7,183.5 347.9,184.2 347.1,184.8 346.3,185.5 345.5,186.1 344.7,186.8 344,187.4 343.2,188.1 342.4,188.7 341.6,189.4 340.8,190 340,190.6 339.2,191.3 338.4,191.9 337.6,192.5 336.8,193.2 336,193.8 335.2,194.4 334.3,195 333.5,195.6 332.7,196.3 331.9,196.9 331.1,197.5 330.3,198.1 329.4,198.7 328.6,199.3 327.8,199.9 326.9,200.5 326.1,201.1 325.3,201.7 324.4,202.2 323.6,202.8 322.8,203.4 321.9,204 321.1,204.6 320.2,205.1 319.4,205.7 318.5,206.3 317.6,206.8 316.8,207.4 315.9,207.9 315.1,208.5 314.2,209 313.3,209.6 312.5,210.1 311.6,210.6 310.7,211.2 309.9,211.7 309,212.2 308.1,212.8 307.3,213.3 306.4,213.8 305.5,214.3 304.6,214.8 303.7,215.4 302.9,215.9 302,216.4 301.1,216.9 300.2,217.4 299.3,217.9 298.4,218.4 297.6,218.9 296.7,219.4 295.8,219.9 294.9,220.4 294,220.9 293.1,221.3 292.2,221.8 291.3,222.3 290.4,222.8 289.5,223.2 288.6,223.7 287.7,224.2 286.8,224.6 285.9,225.1 285,225.6 284.1,226 283.2,226.5 282.3,226.9 281.4,227.4 280.5,227.8 279.5,228.3 278.6,228.7 277.7,229.2 276.8,229.6 275.9,230.1 275,230.5 274.1,231 273.2,231.4 272.3,231.8 271.4,232.3 270.4,232.7 269.5,233.2 268.6,233.6 267.7,234 266.8,234.5 265.9,234.9 265,235.3 264,235.8 263.1,236.2 262.2,236.6 261.3,237.1 260.4,237.5 259.5,237.9 258.5,238.3 257.6,238.8 256.7,239.2 255.8,239.6 254.9,240 253.9,240.5 253,240.9 252.1,241.3 251.2,241.7 250.3,242.1 249.3,242.6 248.4,243 247.5,243.4 246.6,243.8 245.6,244.2 244.7,244.6 243.8,245.1 242.9,245.5 242,245.9 241,246.3 240.1,246.7 239.2,247.1 238.2,247.5 237.3,247.9 236.4,248.3 235.5,248.7 234.5,249.2 233.6,249.6 232.7,250 231.8,250.4 230.8,250.8 229.9,251.2 229,251.6 228,252 227.1,252.4 226.2,252.8 225.2,253.2 224.3,253.6 223.4,254 222.5,254.3 221.5,254.7 220.6,255.1 219.7,255.6 218.7,256 217.8,256.4 216.9,256.8 216,257.2 215,257.6 214.1,258 213.2,258.4 212.3,258.8 211.3,259.2 210.4,259.6 209.5,260 208.6,260.4 207.6,260.8 206.7,261.2 205.8,261.6 204.8,262 203.9,262.4 203,262.8 202.1,263.2 201.1,263.6 200.2,264 199.3,264.4 198.3,264.8 197.4,265.2 196.5,265.6 195.5,266 194.6,266.3 193.7,266.7 192.7,267.1 191.8,267.5 190.9,267.9 189.9,268.3 189,268.7 188.1,269 187.1,269.4 186.2,269.8 185.3,270.2 184.3,270.6 183.4,270.9 182.5,271.3 181.5,271.7 180.6,272.1 179.6,272.4 178.7,272.8 177.7,273.2 176.8,273.5 175.9,273.9 174.9,274.3 174,274.6 173,275 172.1,275.3 171.1,275.7 170.2,276.1 169.2,276.4 168.3,276.8 167.3,277.1 166.4,277.5 165.4,277.8 164.5,278.1 163.5,278.5 162.5,278.8 161.6,279.1 160.6,279.5 159.7,279.8 158.7,280.1 157.7,280.5 156.8,280.8 155.8,281.1 154.9,281.4 153.9,281.7 152.9,282.1 152,282.4 151,282.7 150,283 149,283.3 148.1,283.6 147.1,283.9 146.1,284.2 145.1,284.5 144.2,284.8 143.2,285.1 142.2,285.4 141.2,285.7 140.3,285.9 139.3,286.2 138.3,286.5 137.3,286.8 136.3,287 135.3,287.3 134.3,287.6 133.3,287.8 132.4,288.1 131.4,288.4 130.4,288.6 129.4,288.9 128.4,289.1 127.4,289.4 126.4,289.6 125.4,289.9 124.4,290.1 123.4,290.3 122.4,290.6 121.4,290.8 120.4,291 119.3,291.2 118.3,291.4 117.3,291.7 116.3,291.9 115.3,292.1 114.3,292.3 113.3,292.5 112.2,292.7 111.2,292.9 110.2,293.1 109.2,293.2 108.1,293.4 107.1,293.6 106.1,293.8 105.1,294Z" fill="#8db033"/>
<path d="M103.5,284 104.4,283.8 105.4,283.7 106.4,283.5 107.4,283.3 108.4,283.1 109.4,282.9 110.4,282.8 111.4,282.6 112.3,282.4 113.3,282.2 114.3,282 115.3,281.8 116.3,281.6 117.2,281.4 118.2,281.2 119.2,280.9 120.2,280.7 121.1,280.5 122.1,280.3 123.1,280.1 124,279.8 125,279.6 126,279.4 126.9,279.1 127.9,278.9 128.9,278.6 129.8,278.4 130.8,278.1 131.8,277.9 132.7,277.6 133.7,277.3 134.6,277.1 135.6,276.8 136.5,276.6 137.5,276.3 138.5,276 139.4,275.7 140.4,275.4 141.3,275.2 142.3,274.9 143.2,274.6 144.2,274.3 145.1,274 146.1,273.7 147,273.4 148,273.1 148.9,272.8 149.9,272.5 150.8,272.2 151.7,271.9 152.7,271.6 153.6,271.3 154.6,271 155.5,270.6 156.5,270.3 157.4,270 158.3,269.7 159.3,269.4 160.2,269 161.1,268.7 162.1,268.4 163,268 164,267.7 164.9,267.4 165.8,267 166.8,266.7 167.7,266.3 168.6,266 169.6,265.7 170.5,265.3 171.4,265 172.4,264.7 173.3,264.3 174.2,264 175.2,263.6 176.1,263.3 177,262.9 178,262.6 178.9,262.2 179.8,261.8 180.8,261.5 181.7,261.1 182.6,260.8 183.6,260.4 184.5,260.1 185.4,259.7 186.4,259.3 187.3,259 188.2,258.6 189.2,258.2 190.1,257.9 191,257.5 191.9,257.1 192.9,256.7 193.8,256.4 194.7,256 195.7,255.6 196.6,255.3 197.5,254.9 198.4,254.5 199.4,254.1 200.3,253.7 201.2,253.4 202.2,253 203.1,252.6 204,252.2 204.9,251.8 205.9,251.5 206.8,251.1 207.7,250.7 208.6,250.3 209.6,249.9 210.5,249.5 211.4,249.1 212.3,248.7 213.3,248.4 214.2,248 215.1,247.6 216,247.2 217,246.8 217.9,246.4 218.8,246 219.7,245.6 220.6,245.2 221.5,244.8 222.5,244.3 223.4,243.9 224.3,243.5 225.2,243.1 226.1,242.7 227,242.3 228,241.9 228.9,241.4 229.8,241 230.7,240.6 231.6,240.2 232.5,239.8 233.4,239.3 234.3,238.9 235.2,238.5 236.2,238.1 237.1,237.6 238,237.2 238.9,236.8 239.8,236.4 240.7,235.9 241.6,235.5 242.5,235.1 243.4,234.7 244.3,234.2 245.2,233.8 246.1,233.4 247,232.9 248,232.5 248.9,232.1 249.8,231.6 250.7,231.2 251.6,230.7 252.5,230.3 253.4,229.9 254.3,229.4 255.2,229 256.1,228.5 257,228.1 257.9,227.7 258.8,227.2 259.7,226.8 260.6,226.3 261.5,225.9 262.4,225.4 263.3,225 264.2,224.5 265.1,224.1 265.9,223.6 266.8,223.2 267.7,222.7 268.6,222.3 269.5,221.8 270.4,221.4 271.3,220.9 272.2,220.5 273.1,220 274,219.5 274.9,219.1 275.7,218.6 276.6,218.2 277.5,217.7 278.4,217.2 279.3,216.8 280.2,216.3 281,215.8 281.9,215.4 282.8,214.9 283.7,214.4 284.5,213.9 285.4,213.5 286.3,213 287.2,212.5 288,212 288.9,211.5 289.8,211.1 290.6,210.6 291.5,210.1 292.4,209.6 293.2,209.1 294.1,208.6 295,208.1 295.8,207.6 296.7,207.2 297.5,206.7 298.4,206.2 299.2,205.7 300.1,205.1 300.9,204.6 301.8,204.1 302.6,203.6 303.5,203.1 304.3,202.6 305.1,202.1 306,201.5 306.8,201 307.6,200.5 308.5,200 309.3,199.4 310.1,198.9 311,198.4 311.8,197.8 312.6,197.3 313.4,196.7 314.2,196.2 315,195.6 315.8,195.1 316.7,194.5 317.5,194 318.3,193.4 319.1,192.8 319.9,192.3 320.7,191.7 321.5,191.1 322.3,190.5 323.1,190 323.8,189.4 324.6,188.8 325.4,188.2 326.2,187.6 327,187 327.8,186.4 328.6,185.8 329.3,185.2 330.1,184.6 330.9,184 331.7,183.4 332.4,182.8 333.2,182.1 334,181.5 334.7,180.9 335.5,180.3 336.3,179.6 337,179 337.8,178.4 338.6,177.7 339.3,177.1 340.1,176.5 340.9,175.8 341.6,175.2 342.4,174.5 343.1,173.9 343.9,173.2 344.6,172.6 345.4,171.9 346.2,171.3 346.9,170.6 347.7,169.9 348.4,169.3 349.2,168.6 349.9,167.9 350.7,167.3 351.4,166.6 352.2,165.9 352.9,165.2 353.7,164.6 354.4,163.9 355.2,163.2 355.9,162.5 356.6,161.9 357.4,161.2 358.1,160.5 358.9,159.8 359.6,159.1 360.3,158.4 361.1,157.7 361.8,157 362.5,156.3 363.3,155.6 364,154.9 364.7,154.2 365.4,153.5 366.2,152.8 366.9,152.1 367.6,151.4 368.3,150.7 369,150 369.7,149.3 370.4,148.6 371.1,147.8 371.8,147.1 372.5,146.4 373.2,145.7 373.8,144.9 374.5,144.2 375.2,143.5 375.9,142.7 376.5,142 377.2,141.2 377.8,140.5 378.5,139.7 379.1,139 379.8,138.2 380.4,137.5 381.1,136.7 381.7,136 382.3,135.2 382.9,134.4 383.6,133.7 384.2,132.9 384.8,132.1 385.4,131.3 386,130.6 386.5,129.8 387.1,129 387.7,128.2 388.3,127.4 388.8,126.6 389.4,125.8 390,125 390.5,124.2 391,123.4 391.6,122.6 392.1,121.8 392.6,121 393.1,120.1 393.7,119.3 394.2,118.5 394.7,117.7 395.1,116.8 395.6,116 396.1,115.2 396.6,114.3 397.1,113.5 397.5,112.6 398,111.8 398.4,110.9 398.9,110.1 399.3,109.2 399.7,108.4 400.2,107.5 400.6,106.6 401,105.8 401.4,104.9 401.8,104 402.1,103.1 402.5,102.2 402.9,101.3 403.2,100.4 403.6,99.6 403.9,98.7 404.2,97.7 404.6,96.8 404.9,95.9 405.2,95 405.5,94.1 405.7,93.2 406,92.3 406.3,91.3 406.5,90.4 406.8,89.5 407,88.6 407.2,87.6 407.4,86.7 407.6,85.8 407.8,84.8 408,83.9 408.2,82.9 408.4,82 408.5,81 408.6,80.1 408.8,79.2 408.9,78.2 409,77.2 409.1,76.3 409.2,75.3 409.2,74.4 409.3,73.4 409.3,72.5 409.4,71.5 409.4,70.5 409.4,69.6 409.4,68.6 409.4,67.7 409.3,66.7 409.3,65.7 409.2,64.8 409.2,63.8 409.1,62.9 409,61.9 408.9,60.9 408.8,60 408.7,59 408.5,58 408.4,57.1 408.2,56.1 408,55.2 407.8,54.2 407.6,53.2 407.4,52.3 407.1,51.3 406.9,50.3 406.6,49.4 406.3,48.4 406.1,47.5 405.7,46.5 405.4,45.6 405.1,44.6 404.7,43.6 404.4,42.7 404,41.7 403.6,40.8 403.2,39.8 402.8,38.9 402.3,37.9 401.9,37 406.5,34.7 407,35.7 407.5,36.7 408,37.7 408.4,38.7 408.8,39.7 409.3,40.8 409.7,41.8 410,42.8 410.4,43.8 410.8,44.8 411.1,45.9 411.4,46.9 411.7,47.9 412,48.9 412.3,50 412.6,51 412.8,52 413.1,53.1 413.3,54.1 413.5,55.1 413.7,56.2 413.9,57.2 414,58.2 414.2,59.3 414.3,60.3 414.4,61.3 414.5,62.4 414.6,63.4 414.7,64.4 414.8,65.4 414.8,66.5 414.9,67.5 414.9,68.5 414.9,69.6 414.9,70.6 414.9,71.6 414.9,72.7 414.8,73.7 414.8,74.7 414.7,75.7 414.7,76.7 414.6,77.8 414.5,78.8 414.4,79.8 414.3,80.8 414.2,81.8 414,82.9 413.9,83.9 413.7,84.9 413.5,85.9 413.4,86.9 413.2,87.9 413,88.9 412.8,89.9 412.5,90.9 412.3,91.9 412.1,92.9 411.8,93.9 411.6,94.9 411.3,95.8 411,96.8 410.7,97.8 410.4,98.8 410.1,99.7 409.8,100.7 409.4,101.7 409.1,102.6 408.8,103.6 408.4,104.6 408,105.5 407.7,106.5 407.3,107.4 406.9,108.4 406.5,109.3 406.1,110.2 405.6,111.2 405.2,112.1 404.8,113 404.3,113.9 403.9,114.8 403.4,115.7 403,116.7 402.5,117.6 402,118.5 401.5,119.3 401,120.2 400.5,121.1 400,122 399.5,122.9 398.9,123.7 398.4,124.6 397.8,125.5 397.3,126.3 396.7,127.2 396.2,128 395.6,128.9 395,129.7 394.4,130.5 393.8,131.4 393.2,132.2 392.6,133 392,133.9 391.4,134.7 390.8,135.5 390.2,136.3 389.6,137.1 388.9,137.9 388.3,138.7 387.7,139.5 387,140.3 386.4,141.1 385.7,141.9 385,142.7 384.4,143.5 383.7,144.2 383,145 382.4,145.8 381.7,146.6 381,147.3 380.3,148.1 379.6,148.9 378.9,149.6 378.2,150.4 377.5,151.1 376.8,151.9 376.1,152.6 375.4,153.4 374.7,154.1 373.9,154.8 373.2,155.6 372.5,156.3 371.8,157 371,157.8 370.3,158.5 369.6,159.2 368.8,159.9 368.1,160.7 367.4,161.4 366.6,162.1 365.9,162.8 365.1,163.5 364.4,164.2 363.6,164.9 362.9,165.6 362.1,166.3 361.4,167 360.6,167.7 359.9,168.4 359.1,169.1 358.3,169.8 357.6,170.4 356.8,171.1 356.1,171.8 355.3,172.5 354.5,173.1 353.8,173.8 353,174.5 352.2,175.2 351.5,175.8 350.7,176.5 349.9,177.1 349.2,177.8 348.4,178.5 347.6,179.1 346.8,179.8 346.1,180.4 345.3,181.1 344.5,181.7 343.7,182.4 343,183 342.2,183.7 341.4,184.3 340.6,184.9 339.8,185.6 339,186.2 338.2,186.8 337.4,187.5 336.7,188.1 335.9,188.7 335.1,189.3 334.3,189.9 333.5,190.6 332.7,191.2 331.9,191.8 331.1,192.4 330.3,193 329.5,193.6 328.6,194.2 327.8,194.8 327,195.4 326.2,196 325.4,196.6 324.6,197.1 323.7,197.7 322.9,198.3 322.1,198.9 321.3,199.4 320.4,200 319.6,200.6 318.8,201.1 317.9,201.7 317.1,202.3 316.2,202.8 315.4,203.4 314.5,203.9 313.7,204.4 312.8,205 312,205.5 311.1,206.1 310.3,206.6 309.4,207.1 308.6,207.6 307.7,208.2 306.9,208.7 306,209.2 305.1,209.7 304.3,210.2 303.4,210.7 302.5,211.3 301.6,211.8 300.8,212.3 299.9,212.8 299,213.3 298.2,213.8 297.3,214.3 296.4,214.7 295.5,215.2 294.6,215.7 293.8,216.2 292.9,216.7 292,217.2 291.1,217.7 290.2,218.1 289.3,218.6 288.4,219.1 287.5,219.5 286.6,220 285.7,220.5 284.9,220.9 284,221.4 283.1,221.9 282.2,222.3 281.3,222.8 280.4,223.2 279.5,223.7 278.6,224.1 277.7,224.6 276.8,225 275.9,225.5 275,225.9 274.1,226.4 273.1,226.8 272.2,227.3 271.3,227.7 270.4,228.2 269.5,228.6 268.6,229 267.7,229.5 266.8,229.9 265.9,230.3 265,230.8 264.1,231.2 263.2,231.7 262.3,232.1 261.3,232.5 260.4,233 259.5,233.4 258.6,233.8 257.7,234.2 256.8,234.7 255.9,235.1 255,235.5 254,236 253.1,236.4 252.2,236.8 251.3,237.2 250.4,237.7 249.5,238.1 248.6,238.5 247.6,238.9 246.7,239.3 245.8,239.8 244.9,240.2 244,240.6 243,241 242.1,241.4 241.2,241.8 240.3,242.3 239.4,242.7 238.4,243.1 237.5,243.5 236.6,243.9 235.7,244.3 234.8,244.7 233.8,245.1 232.9,245.5 232,246 231.1,246.4 230.1,246.8 229.2,247.2 228.3,247.6 227.4,248 226.4,248.4 225.5,248.8 224.6,249.2 223.7,249.6 222.7,250 221.8,250.4 220.9,250.8 220,251.2 219,251.6 218.1,252 217.2,252.4 216.3,252.8 215.3,253.2 214.4,253.6 213.5,254 212.6,254.4 211.7,254.8 210.7,255.2 209.8,255.6 208.9,256 208,256.4 207,256.8 206.1,257.2 205.2,257.6 204.3,258 203.3,258.4 202.4,258.8 201.5,259.2 200.5,259.6 199.6,260 198.7,260.4 197.8,260.7 196.8,261.1 195.9,261.5 195,261.9 194.1,262.3 193.1,262.7 192.2,263.1 191.3,263.5 190.3,263.8 189.4,264.2 188.5,264.6 187.5,265 186.6,265.4 185.7,265.7 184.7,266.1 183.8,266.5 182.9,266.9 181.9,267.2 181,267.6 180.1,268 179.1,268.3 178.2,268.7 177.3,269.1 176.3,269.4 175.4,269.8 174.5,270.2 173.5,270.5 172.6,270.9 171.6,271.2 170.7,271.6 169.8,272 168.8,272.3 167.9,272.7 166.9,273 166,273.3 165,273.7 164.1,274 163.1,274.3 162.2,274.7 161.2,275 160.3,275.3 159.3,275.7 158.4,276 157.4,276.3 156.5,276.6 155.5,276.9 154.5,277.2 153.6,277.6 152.6,277.9 151.7,278.2 150.7,278.5 149.8,278.8 148.8,279.1 147.8,279.4 146.9,279.7 145.9,280 144.9,280.3 144,280.6 143,280.8 142,281.1 141.1,281.4 140.1,281.7 139.1,282 138.1,282.2 137.2,282.5 136.2,282.8 135.2,283 134.2,283.3 133.3,283.6 132.3,283.8 131.3,284.1 130.3,284.3 129.3,284.6 128.4,284.8 127.4,285.1 126.4,285.3 125.4,285.5 124.4,285.8 123.4,286 122.4,286.2 121.4,286.4 120.4,286.7 119.5,286.9 118.5,287.1 117.5,287.3 116.5,287.5 115.5,287.7 114.5,287.9 113.5,288.1 112.5,288.3 111.5,288.5 110.4,288.7 109.4,288.9 108.4,289 107.4,289.2 106.4,289.4 105.4,289.5 104.4,289.7Z" fill="#ffd026"/>
<path d="M102.2,239.5 103.1,239.1 104,238.7 104.9,238.2 105.8,237.8 106.8,237.4 107.7,237 108.6,236.6 109.5,236.2 110.5,235.8 111.4,235.4 112.3,234.9 113.2,234.5 114.2,234.1 115.1,233.7 116,233.3 116.9,232.9 117.9,232.5 118.8,232.1 119.7,231.7 120.6,231.3 121.6,230.9 122.5,230.5 123.4,230.1 124.3,229.7 125.3,229.3 126.2,229 127.1,228.6 128.1,228.2 129,227.8 129.9,227.4 130.8,227 131.8,226.6 132.7,226.2 133.6,225.8 134.6,225.4 135.5,225 136.4,224.6 137.3,224.2 138.3,223.8 139.2,223.4 140.1,223 141,222.6 142,222.3 142.9,221.9 143.8,221.5 144.7,221.1 145.7,220.7 146.6,220.3 147.5,219.9 148.4,219.5 149.4,219.1 150.3,218.7 151.2,218.3 152.1,217.9 153,217.5 153.9,217.1 154.9,216.6 155.8,216.2 156.7,215.8 157.6,215.4 158.5,215 159.4,214.6 160.3,214.2 161.2,213.8 162.1,213.3 163.1,212.9 164,212.5 164.9,212.1 165.8,211.7 166.7,211.2 167.6,210.8 168.5,210.4 169.4,209.9 170.3,209.5 171.2,209.1 172.1,208.6 172.9,208.2 173.8,207.8 174.7,207.3 175.6,206.9 176.5,206.4 177.4,206 178.3,205.5 179.2,205.1 180.1,204.6 180.9,204.2 181.8,203.7 182.7,203.2 183.6,202.8 184.5,202.3 185.3,201.8 186.2,201.4 187.1,200.9 188,200.4 188.9,200 189.7,199.5 190.6,199 191.5,198.5 192.3,198 193.2,197.6 194.1,197.1 194.9,196.6 195.8,196.1 196.7,195.6 197.5,195.1 198.4,194.6 199.3,194.1 200.1,193.6 201,193.1 201.8,192.6 202.7,192.1 203.5,191.6 204.4,191.1 205.3,190.6 206.1,190.1 207,189.6 207.8,189 208.7,188.5 209.5,188 210.4,187.5 211.2,187 212,186.4 212.9,185.9 213.7,185.4 214.6,184.9 215.4,184.3 216.3,183.8 217.1,183.3 217.9,182.7 218.8,182.2 219.6,181.6 220.4,181.1 221.3,180.6 222.1,180 222.9,179.5 223.7,178.9 224.6,178.4 225.4,177.8 226.2,177.3 227.1,176.7 227.9,176.2 228.7,175.6 229.5,175 230.3,174.5 231.2,173.9 232,173.4 232.8,172.8 233.6,172.2 234.4,171.6 235.2,171.1 236,170.5 236.8,169.9 237.7,169.4 238.5,168.8 239.3,168.2 240.1,167.6 240.9,167 241.7,166.4 242.5,165.9 243.3,165.3 244.1,164.7 244.9,164.1 245.7,163.5 246.5,162.9 247.2,162.3 248,161.7 248.8,161.1 249.6,160.5 250.4,159.9 251.2,159.3 252,158.7 252.7,158 253.5,157.4 254.3,156.8 255.1,156.2 255.8,155.6 256.6,155 257.4,154.3 258.2,153.7 258.9,153.1 259.7,152.4 260.5,151.8 261.2,151.2 262,150.5 262.7,149.9 263.5,149.3 264.3,148.6 265,148 265.8,147.3 266.5,146.7 267.3,146 268,145.3 268.7,144.7 269.5,144 270.2,143.4 271,142.7 271.7,142 272.4,141.4 273.2,140.7 273.9,140 274.6,139.3 275.4,138.7 276.1,138 276.8,137.3 277.5,136.6 278.3,135.9 279,135.2 279.7,134.5 280.4,133.8 281.1,133.1 281.8,132.4 282.5,131.7 283.2,131 283.9,130.3 284.6,129.6 285.3,128.9 286,128.1 286.7,127.4 287.3,126.7 288,126 288.7,125.2 289.3,124.5 290,123.7 290.7,123 291.3,122.3 292,121.5 292.6,120.8 293.3,120 293.9,119.2 294.5,118.5 295.2,117.7 295.8,116.9 296.4,116.2 297,115.4 297.6,114.6 298.2,113.8 298.8,113 299.4,112.2 300,111.5 300.6,110.7 301.1,109.9 301.7,109.1 302.3,108.3 302.8,107.4 303.4,106.6 303.9,105.8 304.4,105 304.9,104.2 305.5,103.4 306,102.5 306.5,101.7 307,100.9 307.5,100.1 307.9,99.2 308.4,98.4 308.9,97.5 309.3,96.7 309.8,95.9 310.2,95 310.6,94.2 311,93.3 311.5,92.4 311.9,91.6 312.3,90.7 312.6,89.9 313,89 313.4,88.1 313.7,87.3 314.1,86.4 314.4,85.5 314.7,84.7 315.1,83.8 315.4,82.9 315.7,82 315.9,81.1 316.2,80.2 316.5,79.4 316.7,78.5 317,77.6 317.2,76.7 317.4,75.8 317.6,74.9 317.8,74 318,73.1 318.2,72.2 318.3,71.3 318.5,70.4 318.6,69.4 318.8,68.5 318.9,67.6 319,66.7 319.1,65.8 319.1,64.9 319.2,63.9 319.3,63 319.3,62.1 319.3,61.1 319.3,60.2 319.3,59.3 319.3,58.3 319.3,57.4 319.3,56.5 319.2,55.5 319.1,54.6 319.1,53.6 319,52.7 318.9,51.7 318.7,50.8 318.6,49.8 318.4,48.9 318.3,47.9 318.1,46.9 317.9,46 317.7,45 317.5,44 317.2,43 317,42.1 316.7,41.1 316.4,40.1 316.1,39.1 315.8,38.1 315.4,37.1 315.1,36.1 323.7,33 324.1,34.1 324.5,35.2 324.8,36.3 325.2,37.4 325.5,38.6 325.8,39.7 326.1,40.8 326.4,41.9 326.6,43 326.9,44.1 327.1,45.2 327.3,46.3 327.5,47.4 327.7,48.5 327.8,49.5 327.9,50.6 328.1,51.7 328.2,52.8 328.3,53.9 328.3,55 328.4,56 328.4,57.1 328.5,58.2 328.5,59.2 328.5,60.3 328.5,61.4 328.4,62.4 328.4,63.5 328.3,64.5 328.2,65.6 328.1,66.6 328,67.7 327.9,68.7 327.8,69.7 327.6,70.8 327.5,71.8 327.3,72.8 327.1,73.8 326.9,74.9 326.7,75.9 326.5,76.9 326.3,77.9 326,78.9 325.7,79.9 325.5,80.9 325.2,81.9 324.9,82.9 324.6,83.9 324.3,84.8 323.9,85.8 323.6,86.8 323.2,87.8 322.9,88.7 322.5,89.7 322.1,90.7 321.7,91.6 321.3,92.6 320.9,93.5 320.5,94.5 320.1,95.4 319.6,96.3 319.2,97.3 318.7,98.2 318.2,99.1 317.8,100 317.3,101 316.8,101.9 316.3,102.8 315.8,103.7 315.2,104.6 314.7,105.5 314.2,106.4 313.6,107.3 313.1,108.1 312.5,109 312,109.9 311.4,110.8 310.8,111.6 310.2,112.5 309.6,113.4 309,114.2 308.4,115.1 307.8,115.9 307.2,116.8 306.6,117.6 306,118.4 305.3,119.3 304.7,120.1 304.1,120.9 303.4,121.7 302.8,122.5 302.1,123.4 301.4,124.2 300.8,125 300.1,125.8 299.4,126.6 298.7,127.4 298,128.1 297.4,128.9 296.7,129.7 296,130.5 295.3,131.2 294.6,132 293.9,132.8 293.2,133.5 292.4,134.3 291.7,135 291,135.8 290.3,136.5 289.6,137.2 288.8,138 288.1,138.7 287.4,139.4 286.6,140.2 285.9,140.9 285.2,141.6 284.4,142.3 283.7,143 282.9,143.7 282.2,144.4 281.4,145.1 280.7,145.8 279.9,146.5 279.2,147.2 278.4,147.9 277.7,148.6 276.9,149.3 276.1,150 275.4,150.6 274.6,151.3 273.8,152 273.1,152.7 272.3,153.3 271.5,154 270.8,154.7 270,155.3 269.2,156 268.4,156.6 267.7,157.3 266.9,157.9 266.1,158.6 265.3,159.2 264.5,159.9 263.7,160.5 262.9,161.2 262.1,161.8 261.4,162.4 260.6,163.1 259.8,163.7 259,164.3 258.2,165 257.4,165.6 256.6,166.2 255.8,166.8 255,167.5 254.2,168.1 253.4,168.7 252.6,169.3 251.7,169.9 250.9,170.5 250.1,171.1 249.3,171.7 248.5,172.3 247.7,172.9 246.9,173.5 246,174.1 245.2,174.7 244.4,175.3 243.6,175.9 242.8,176.5 241.9,177.1 241.1,177.7 240.3,178.3 239.5,178.8 238.6,179.4 237.8,180 237,180.6 236.1,181.1 235.3,181.7 234.5,182.3 233.6,182.9 232.8,183.4 232,184 231.1,184.5 230.3,185.1 229.4,185.7 228.6,186.2 227.7,186.8 226.9,187.3 226,187.9 225.2,188.4 224.4,189 223.5,189.5 222.7,190.1 221.8,190.6 220.9,191.2 220.1,191.7 219.2,192.3 218.4,192.8 217.5,193.3 216.7,193.9 215.8,194.4 214.9,194.9 214.1,195.5 213.2,196 212.3,196.5 211.5,197 210.6,197.6 209.7,198.1 208.9,198.6 208,199.1 207.1,199.6 206.3,200.1 205.4,200.7 204.5,201.2 203.6,201.7 202.7,202.2 201.9,202.7 201,203.2 200.1,203.7 199.2,204.2 198.3,204.7 197.5,205.2 196.6,205.7 195.7,206.1 194.8,206.6 193.9,207.1 193,207.6 192.1,208.1 191.2,208.6 190.3,209.1 189.4,209.5 188.5,210 187.6,210.5 186.7,210.9 185.8,211.4 184.9,211.9 184,212.3 183.1,212.8 182.2,213.3 181.3,213.7 180.4,214.2 179.5,214.6 178.6,215.1 177.7,215.5 176.8,216 175.9,216.4 175,216.9 174,217.3 173.1,217.8 172.2,218.2 171.3,218.7 170.4,219.1 169.5,219.5 168.5,219.9 167.6,220.4 166.7,220.8 165.8,221.2 164.9,221.7 163.9,222.1 163,222.5 162.1,222.9 161.2,223.3 160.2,223.7 159.3,224.2 158.4,224.6 157.4,225 156.5,225.4 155.6,225.8 154.7,226.2 153.7,226.6 152.8,227 151.9,227.4 150.9,227.8 150,228.2 149.1,228.6 148.2,229 147.2,229.4 146.3,229.8 145.4,230.2 144.4,230.6 143.5,231 142.6,231.4 141.6,231.8 140.7,232.2 139.8,232.6 138.9,233 137.9,233.4 137,233.8 136.1,234.1 135.1,234.5 134.2,234.9 133.3,235.3 132.4,235.7 131.4,236.1 130.5,236.5 129.6,236.9 128.7,237.3 127.7,237.7 126.8,238.1 125.9,238.5 125,238.9 124,239.3 123.1,239.6 122.2,240 121.3,240.4 120.4,240.8 119.4,241.2 118.5,241.6 117.6,242 116.7,242.4 115.8,242.8 114.9,243.2 113.9,243.6 113,244 112.1,244.4 111.2,244.9 110.3,245.3 109.4,245.7 108.5,246.1 107.6,246.5 106.7,246.9 105.8,247.3Z" fill="#ffd026"/>
<path d="M102.2,202.3 103.1,201.9 104,201.5 105,201.2 105.9,200.8 106.8,200.4 107.7,200 108.6,199.6 109.6,199.2 110.5,198.8 111.4,198.4 112.3,198 113.2,197.6 114.1,197.2 115,196.8 115.9,196.4 116.8,195.9 117.7,195.5 118.6,195.1 119.5,194.7 120.4,194.3 121.3,193.8 122.2,193.4 123.1,193 124,192.5 124.9,192.1 125.8,191.6 126.6,191.2 127.5,190.7 128.4,190.3 129.3,189.8 130.2,189.4 131,188.9 131.9,188.5 132.8,188 133.7,187.5 134.5,187.1 135.4,186.6 136.3,186.1 137.1,185.7 138,185.2 138.9,184.7 139.7,184.2 140.6,183.8 141.4,183.3 142.3,182.8 143.1,182.3 144,181.8 144.8,181.3 145.7,180.8 146.5,180.3 147.4,179.8 148.2,179.3 149.1,178.8 149.9,178.3 150.8,177.8 151.6,177.3 152.5,176.8 153.3,176.3 154.2,175.7 155,175.2 155.8,174.7 156.7,174.2 157.5,173.7 158.3,173.1 159.2,172.6 160,172.1 160.8,171.5 161.7,171 162.5,170.5 163.3,169.9 164.2,169.4 165,168.9 165.8,168.3 166.6,167.8 167.5,167.2 168.3,166.7 169.1,166.1 169.9,165.6 170.8,165 171.6,164.5 172.4,163.9 173.2,163.4 174.1,162.8 174.9,162.2 175.7,161.7 176.5,161.1 177.3,160.5 178.2,160 179,159.4 179.8,158.8 180.6,158.2 181.4,157.7 182.3,157.1 183.1,156.5 183.9,155.9 184.7,155.4 185.5,154.8 186.3,154.2 187.1,153.6 188,153 188.8,152.4 189.6,151.8 190.4,151.2 191.2,150.7 192,150.1 192.8,149.5 193.6,148.9 194.4,148.3 195.2,147.7 196,147.1 196.8,146.5 197.6,145.9 198.4,145.2 199.2,144.6 200,144 200.8,143.4 201.6,142.8 202.4,142.2 203.2,141.6 203.9,140.9 204.7,140.3 205.5,139.7 206.3,139.1 207.1,138.4 207.8,137.8 208.6,137.2 209.4,136.5 210.1,135.9 210.9,135.3 211.7,134.6 212.4,134 213.2,133.3 213.9,132.7 214.7,132 215.4,131.4 216.2,130.7 216.9,130 217.7,129.4 218.4,128.7 219.1,128.1 219.9,127.4 220.6,126.7 221.3,126 222,125.4 222.8,124.7 223.5,124 224.2,123.3 224.9,122.6 225.6,121.9 226.3,121.2 227,120.5 227.7,119.8 228.4,119.1 229.1,118.4 229.7,117.7 230.4,117 231.1,116.3 231.8,115.6 232.4,114.9 233.1,114.1 233.8,113.4 234.4,112.7 235.1,112 235.7,111.2 236.3,110.5 237,109.7 237.6,109 238.2,108.2 238.9,107.5 239.5,106.7 240.1,106 240.7,105.2 241.3,104.5 241.9,103.7 242.5,102.9 243.1,102.1 243.7,101.4 244.2,100.6 244.8,99.8 245.4,99 245.9,98.2 246.5,97.4 247,96.7 247.6,95.9 248.1,95.1 248.6,94.3 249.1,93.4 249.6,92.6 250.1,91.8 250.6,91 251.1,90.2 251.6,89.4 252.1,88.5 252.5,87.7 253,86.9 253.4,86.1 253.9,85.2 254.3,84.4 254.7,83.5 255.2,82.7 255.6,81.9 256,81 256.3,80.2 256.7,79.3 257.1,78.4 257.4,77.6 257.8,76.7 258.1,75.8 258.5,75 258.8,74.1 259.1,73.2 259.4,72.3 259.7,71.5 260,70.6 260.2,69.7 260.5,68.8 260.7,67.9 261,67 261.2,66.1 261.4,65.2 261.6,64.3 261.8,63.4 262,62.5 262.2,61.6 262.3,60.7 262.5,59.7 262.6,58.8 262.8,57.9 262.9,56.9 263,56 263.1,55.1 263.1,54.1 263.2,53.2 263.3,52.2 263.3,51.3 263.3,50.3 263.3,49.4 263.3,48.4 263.3,47.4 263.3,46.5 263.3,45.5 263.2,44.5 263.1,43.5 263.1,42.6 263,41.6 262.9,40.6 262.7,39.6 262.6,38.6 262.4,37.6 262.3,36.6 262.1,35.5 271.9,33.8 272.1,34.9 272.3,36 272.5,37.2 272.6,38.3 272.8,39.4 272.9,40.6 273,41.7 273.1,42.8 273.2,43.9 273.2,45 273.3,46.2 273.3,47.3 273.3,48.4 273.3,49.5 273.3,50.6 273.3,51.6 273.2,52.7 273.1,53.8 273.1,54.9 273,56 272.9,57 272.8,58.1 272.6,59.2 272.5,60.2 272.3,61.3 272.1,62.3 272,63.4 271.8,64.4 271.6,65.4 271.3,66.5 271.1,67.5 270.8,68.5 270.6,69.5 270.3,70.5 270,71.5 269.7,72.5 269.4,73.5 269.1,74.5 268.8,75.5 268.4,76.5 268.1,77.5 267.7,78.5 267.4,79.4 267,80.4 266.6,81.3 266.2,82.3 265.8,83.3 265.4,84.2 264.9,85.1 264.5,86.1 264,87 263.6,87.9 263.1,88.9 262.6,89.8 262.2,90.7 261.7,91.6 261.2,92.5 260.7,93.4 260.1,94.3 259.6,95.2 259.1,96.1 258.5,97 258,97.9 257.4,98.7 256.9,99.6 256.3,100.5 255.7,101.3 255.2,102.2 254.6,103 254,103.9 253.4,104.7 252.8,105.6 252.2,106.4 251.6,107.2 250.9,108.1 250.3,108.9 249.7,109.7 249,110.5 248.4,111.3 247.7,112.1 247.1,113 246.4,113.7 245.8,114.5 245.1,115.3 244.4,116.1 243.8,116.9 243.1,117.7 242.4,118.5 241.7,119.2 241,120 240.3,120.7 239.6,121.5 238.9,122.3 238.2,123 237.5,123.8 236.8,124.5 236.1,125.2 235.4,126 234.6,126.7 233.9,127.4 233.2,128.2 232.4,128.9 231.7,129.6 231,130.3 230.2,131 229.5,131.8 228.7,132.5 228,133.2 227.2,133.9 226.5,134.6 225.7,135.3 224.9,136 224.2,136.6 223.4,137.3 222.6,138 221.8,138.7 221.1,139.4 220.3,140 219.5,140.7 218.7,141.4 217.9,142 217.2,142.7 216.4,143.4 215.6,144 214.8,144.7 214,145.3 213.2,146 212.4,146.6 211.6,147.3 210.8,147.9 210,148.6 209.2,149.2 208.4,149.8 207.6,150.5 206.8,151.1 205.9,151.7 205.1,152.3 204.3,153 203.5,153.6 202.7,154.2 201.9,154.8 201,155.4 200.2,156 199.4,156.7 198.6,157.3 197.8,157.9 196.9,158.5 196.1,159.1 195.3,159.7 194.5,160.3 193.6,160.9 192.8,161.5 192,162.1 191.2,162.7 190.3,163.2 189.5,163.8 188.7,164.4 187.8,165 187,165.6 186.2,166.2 185.4,166.8 184.5,167.3 183.7,167.9 182.9,168.5 182,169.1 181.2,169.6 180.4,170.2 179.5,170.8 178.7,171.4 177.9,171.9 177,172.5 176.2,173.1 175.3,173.6 174.5,174.2 173.7,174.7 172.8,175.3 172,175.9 171.1,176.4 170.3,177 169.4,177.5 168.6,178.1 167.7,178.6 166.9,179.1 166,179.7 165.2,180.2 164.3,180.8 163.5,181.3 162.6,181.8 161.8,182.4 160.9,182.9 160.1,183.4 159.2,184 158.4,184.5 157.5,185 156.6,185.6 155.8,186.1 154.9,186.6 154,187.1 153.2,187.6 152.3,188.1 151.4,188.6 150.6,189.2 149.7,189.7 148.8,190.2 147.9,190.7 147.1,191.2 146.2,191.7 145.3,192.2 144.4,192.7 143.5,193.1 142.6,193.6 141.8,194.1 140.9,194.6 140,195.1 139.1,195.6 138.2,196 137.3,196.5 136.4,197 135.5,197.5 134.6,197.9 133.7,198.4 132.8,198.9 131.9,199.3 131,199.8 130.1,200.2 129.2,200.7 128.3,201.1 127.3,201.6 126.4,202 125.5,202.5 124.6,202.9 123.7,203.4 122.7,203.8 121.8,204.2 120.9,204.7 120,205.1 119,205.5 118.1,205.9 117.1,206.4 116.2,206.8 115.3,207.2 114.3,207.6 113.4,208 112.4,208.4 111.5,208.8 110.5,209.2 109.6,209.6 108.6,210 107.7,210.4 106.7,210.8 105.7,211.2Z" fill="#ffd026"/>
<path d="M101.5,174.7 102.2,174.1 103,173.5 103.8,173 104.6,172.4 105.4,171.8 106.1,171.3 106.9,170.7 107.7,170.1 108.5,169.6 109.3,169 110.1,168.4 110.9,167.9 111.7,167.3 112.6,166.7 113.4,166.2 114.2,165.6 115,165.1 115.8,164.5 116.6,163.9 117.5,163.4 118.3,162.8 119.1,162.3 119.9,161.7 120.8,161.1 121.6,160.6 122.4,160 123.3,159.5 124.1,158.9 124.9,158.4 125.8,157.8 126.6,157.2 127.4,156.7 128.3,156.1 129.1,155.6 130,155 130.8,154.5 131.6,153.9 132.5,153.3 133.3,152.8 134.2,152.2 135,151.7 135.9,151.1 136.7,150.5 137.5,150 138.4,149.4 139.2,148.8 140.1,148.3 140.9,147.7 141.8,147.2 142.6,146.6 143.5,146 144.3,145.5 145.1,144.9 146,144.3 146.8,143.7 147.7,143.2 148.5,142.6 149.3,142 150.2,141.5 151,140.9 151.8,140.3 152.7,139.7 153.5,139.1 154.3,138.6 155.2,138 156,137.4 156.8,136.8 157.6,136.2 158.5,135.6 159.3,135 160.1,134.4 160.9,133.8 161.7,133.2 162.5,132.6 163.4,132 164.2,131.4 165,130.8 165.8,130.2 166.6,129.6 167.4,129 168.2,128.4 168.9,127.8 169.7,127.2 170.5,126.6 171.3,125.9 172.1,125.3 172.9,124.7 173.6,124.1 174.4,123.4 175.2,122.8 175.9,122.2 176.7,121.5 177.4,120.9 178.2,120.2 178.9,119.6 179.7,119 180.4,118.3 181.2,117.7 181.9,117 182.6,116.3 183.3,115.7 184.1,115 184.8,114.3 185.5,113.7 186.2,113 186.9,112.3 187.6,111.7 188.3,111 189,110.3 189.6,109.6 190.3,108.9 191,108.2 191.6,107.5 192.3,106.8 193,106.1 193.6,105.4 194.2,104.7 194.9,104 195.5,103.2 196.1,102.5 196.8,101.8 197.4,101.1 198,100.3 198.6,99.6 199.2,98.9 199.8,98.1 200.4,97.4 200.9,96.6 201.5,95.9 202.1,95.1 202.6,94.3 203.2,93.6 203.7,92.8 204.3,92 204.8,91.3 205.3,90.5 205.9,89.7 206.4,88.9 206.9,88.1 207.4,87.3 207.9,86.5 208.3,85.7 208.8,84.9 209.3,84.1 209.8,83.3 210.2,82.5 210.6,81.6 211.1,80.8 211.5,80 211.9,79.2 212.3,78.3 212.7,77.5 213.1,76.6 213.5,75.8 213.9,74.9 214.3,74.1 214.6,73.2 215,72.4 215.3,71.5 215.6,70.6 216,69.8 216.3,68.9 216.6,68 216.9,67.2 217.1,66.3 217.4,65.4 217.7,64.5 217.9,63.6 218.2,62.7 218.4,61.8 218.6,60.9 218.8,60 219,59.1 219.2,58.2 219.4,57.3 219.5,56.4 219.7,55.4 219.8,54.5 219.9,53.6 220.1,52.6 220.2,51.7 220.3,50.8 220.3,49.8 220.4,48.9 220.5,47.9 220.5,47 220.5,46 220.6,45.1 220.6,44.1 220.6,43.1 220.5,42.2 220.5,41.2 220.5,40.2 220.4,39.2 220.3,38.3 220.3,37.3 220.2,36.3 220,35.2 232.2,34 232.3,35.1 232.4,36.2 232.5,37.4 232.5,38.5 232.6,39.7 232.6,40.8 232.6,42 232.6,43.1 232.6,44.2 232.6,45.3 232.6,46.5 232.5,47.6 232.4,48.7 232.4,49.8 232.3,50.9 232.2,52 232,53.1 231.9,54.1 231.7,55.2 231.6,56.3 231.4,57.4 231.2,58.4 231,59.5 230.8,60.6 230.6,61.6 230.3,62.7 230.1,63.7 229.8,64.7 229.5,65.8 229.2,66.8 228.9,67.8 228.6,68.8 228.3,69.8 228,70.8 227.6,71.8 227.3,72.8 226.9,73.8 226.5,74.8 226.1,75.8 225.7,76.8 225.3,77.7 224.9,78.7 224.5,79.6 224,80.6 223.6,81.5 223.1,82.5 222.7,83.4 222.2,84.4 221.7,85.3 221.2,86.2 220.7,87.1 220.2,88 219.7,88.9 219.2,89.8 218.6,90.7 218.1,91.6 217.5,92.5 217,93.4 216.4,94.2 215.8,95.1 215.3,96 214.7,96.8 214.1,97.7 213.5,98.5 212.9,99.4 212.3,100.2 211.7,101 211,101.8 210.4,102.7 209.8,103.5 209.1,104.3 208.5,105.1 207.8,105.9 207.2,106.7 206.5,107.5 205.8,108.2 205.2,109 204.5,109.8 203.8,110.6 203.1,111.3 202.4,112.1 201.7,112.9 201,113.6 200.3,114.3 199.6,115.1 198.8,115.8 198.1,116.6 197.4,117.3 196.6,118 195.9,118.7 195.2,119.5 194.4,120.2 193.7,120.9 192.9,121.6 192.2,122.3 191.4,123 190.6,123.7 189.9,124.4 189.1,125.1 188.3,125.8 187.6,126.4 186.8,127.1 186,127.8 185.2,128.5 184.4,129.1 183.6,129.8 182.8,130.5 182,131.1 181.2,131.8 180.4,132.4 179.6,133.1 178.8,133.7 178,134.4 177.1,135 176.3,135.6 175.5,136.3 174.7,136.9 173.9,137.5 173,138.2 172.2,138.8 171.4,139.4 170.5,140 169.7,140.6 168.9,141.2 168,141.9 167.2,142.5 166.3,143.1 165.5,143.7 164.7,144.3 163.8,144.9 163,145.5 162.1,146.1 161.3,146.7 160.4,147.3 159.6,147.8 158.7,148.4 157.9,149 157,149.6 156.1,150.2 155.3,150.8 154.4,151.3 153.6,151.9 152.7,152.5 151.9,153.1 151,153.6 150.2,154.2 149.3,154.8 148.5,155.3 147.6,155.9 146.7,156.5 145.9,157 145,157.6 144.2,158.2 143.3,158.7 142.5,159.3 141.6,159.8 140.8,160.4 139.9,160.9 139.1,161.5 138.2,162.1 137.4,162.6 136.5,163.2 135.7,163.7 134.8,164.3 134,164.8 133.2,165.4 132.3,165.9 131.5,166.5 130.7,167 129.8,167.6 129,168.1 128.2,168.7 127.3,169.2 126.5,169.7 125.7,170.3 124.9,170.8 124,171.4 123.2,171.9 122.4,172.5 121.6,173 120.8,173.6 120,174.1 119.2,174.7 118.4,175.2 117.6,175.8 116.8,176.3 116,176.8 115.2,177.4 114.4,177.9 113.7,178.5 112.9,179 112.1,179.6 111.3,180.1 110.6,180.7 109.8,181.2 109,181.8 108.3,182.3 107.5,182.9Z" fill="#ffd026"/>
<path d="M101.2,147.5 102,147 102.8,146.5 103.6,145.9 104.3,145.4 105.1,144.9 105.9,144.4 106.7,143.9 107.5,143.4 108.3,142.8 109.1,142.3 110,141.8 110.8,141.3 111.6,140.7 112.4,140.2 113.2,139.7 114,139.1 114.8,138.6 115.6,138 116.5,137.5 117.3,136.9 118.1,136.4 118.9,135.8 119.7,135.3 120.5,134.7 121.4,134.1 122.2,133.6 123,133 123.8,132.4 124.6,131.8 125.4,131.3 126.3,130.7 127.1,130.1 127.9,129.5 128.7,128.9 129.5,128.3 130.3,127.7 131.1,127.1 131.9,126.5 132.8,125.9 133.6,125.3 134.4,124.7 135.2,124.1 136,123.5 136.8,122.9 137.6,122.3 138.3,121.6 139.1,121 139.9,120.4 140.7,119.7 141.5,119.1 142.3,118.5 143,117.8 143.8,117.2 144.6,116.5 145.4,115.9 146.1,115.2 146.9,114.6 147.6,113.9 148.4,113.3 149.1,112.6 149.9,111.9 150.6,111.2 151.4,110.6 152.1,109.9 152.8,109.2 153.5,108.5 154.3,107.8 155,107.1 155.7,106.5 156.4,105.8 157.1,105.1 157.8,104.4 158.5,103.6 159.1,102.9 159.8,102.2 160.5,101.5 161.2,100.8 161.8,100.1 162.5,99.3 163.1,98.6 163.8,97.9 164.4,97.2 165,96.4 165.6,95.7 166.3,94.9 166.9,94.2 167.5,93.4 168.1,92.7 168.6,91.9 169.2,91.2 169.8,90.4 170.3,89.6 170.9,88.8 171.5,88.1 172,87.3 172.5,86.5 173.1,85.7 173.6,84.9 174.1,84.2 174.6,83.4 175.1,82.6 175.6,81.8 176,81 176.5,80.2 177,79.3 177.4,78.5 177.8,77.7 178.3,76.9 178.7,76.1 179.1,75.2 179.5,74.4 179.9,73.6 180.3,72.7 180.7,71.9 181,71.1 181.4,70.2 181.8,69.4 182.1,68.5 182.4,67.7 182.7,66.8 183,65.9 183.3,65.1 183.6,64.2 183.9,63.3 184.2,62.4 184.4,61.6 184.7,60.7 184.9,59.8 185.1,58.9 185.4,58 185.6,57.1 185.8,56.2 185.9,55.3 186.1,54.4 186.3,53.4 186.4,52.5 186.5,51.6 186.7,50.7 186.8,49.7 186.9,48.8 187,47.8 187.1,46.9 187.1,45.9 187.2,45 187.2,44 187.2,43 187.3,42.1 187.3,41.1 187.3,40.1 187.2,39.1 187.2,38.1 187.2,37.1 187.1,36.1 187,35.1 199.4,34.2 199.5,35.4 199.5,36.5 199.6,37.7 199.6,38.8 199.6,40 199.6,41.1 199.6,42.3 199.6,43.4 199.5,44.5 199.5,45.6 199.4,46.8 199.3,47.9 199.2,49 199.1,50.1 199,51.2 198.8,52.3 198.7,53.3 198.5,54.4 198.3,55.5 198.1,56.6 197.9,57.6 197.7,58.7 197.4,59.7 197.2,60.8 196.9,61.8 196.7,62.9 196.4,63.9 196.1,64.9 195.8,66 195.5,67 195.1,68 194.8,69 194.4,70 194.1,71 193.7,72 193.3,72.9 192.9,73.9 192.5,74.9 192.1,75.9 191.6,76.8 191.2,77.8 190.8,78.7 190.3,79.7 189.8,80.6 189.4,81.5 188.9,82.5 188.4,83.4 187.9,84.3 187.3,85.2 186.8,86.1 186.3,87 185.7,87.9 185.2,88.8 184.6,89.7 184.1,90.6 183.5,91.5 182.9,92.3 182.3,93.2 181.7,94.1 181.1,94.9 180.5,95.8 179.9,96.6 179.2,97.5 178.6,98.3 178,99.1 177.3,100 176.7,100.8 176,101.6 175.3,102.4 174.7,103.2 174,104 173.3,104.8 172.6,105.6 171.9,106.4 171.2,107.2 170.5,108 169.8,108.7 169,109.5 168.3,110.3 167.6,111 166.9,111.8 166.1,112.6 165.4,113.3 164.6,114.1 163.9,114.8 163.1,115.5 162.3,116.3 161.6,117 160.8,117.7 160,118.4 159.2,119.2 158.5,119.9 157.7,120.6 156.9,121.3 156.1,122 155.3,122.7 154.5,123.4 153.7,124.1 152.9,124.7 152.1,125.4 151.3,126.1 150.4,126.8 149.6,127.4 148.8,128.1 148,128.8 147.2,129.4 146.3,130.1 145.5,130.7 144.7,131.4 143.8,132 143,132.7 142.2,133.3 141.3,133.9 140.5,134.6 139.7,135.2 138.8,135.8 138,136.4 137.2,137.1 136.3,137.7 135.5,138.3 134.6,138.9 133.8,139.5 132.9,140.1 132.1,140.7 131.3,141.3 130.4,141.9 129.6,142.4 128.7,143 127.9,143.6 127,144.2 126.2,144.7 125.4,145.3 124.5,145.9 123.7,146.4 122.8,147 122,147.6 121.2,148.1 120.3,148.7 119.5,149.2 118.7,149.8 117.9,150.3 117,150.8 116.2,151.4 115.4,151.9 114.6,152.4 113.8,153 112.9,153.5 112.1,154 111.3,154.5 110.5,155 109.7,155.6 108.9,156.1 108.1,156.6 107.3,157.1Z" fill="#ffd026"/>
<path d="M100.3,127.7 101,127 101.7,126.4 102.4,125.7 103.1,125 103.8,124.4 104.5,123.7 105.3,123 106,122.4 106.7,121.7 107.5,121 108.2,120.4 108.9,119.7 109.7,119 110.4,118.4 111.2,117.7 111.9,117 112.7,116.3 113.4,115.7 114.1,115 114.9,114.3 115.6,113.6 116.4,113 117.1,112.3 117.9,111.6 118.6,110.9 119.4,110.2 120.1,109.6 120.9,108.9 121.6,108.2 122.4,107.5 123.1,106.8 123.8,106.1 124.6,105.4 125.3,104.7 126.1,104 126.8,103.3 127.5,102.6 128.2,101.9 129,101.2 129.7,100.5 130.4,99.8 131.1,99.1 131.8,98.4 132.5,97.7 133.2,96.9 133.9,96.2 134.6,95.5 135.3,94.8 136,94 136.6,93.3 137.3,92.6 138,91.9 138.6,91.1 139.3,90.4 139.9,89.6 140.5,88.9 141.2,88.1 141.8,87.4 142.4,86.6 143,85.9 143.6,85.1 144.2,84.4 144.8,83.6 145.4,82.9 146,82.1 146.5,81.3 147.1,80.5 147.6,79.8 148.2,79 148.7,78.2 149.2,77.4 149.7,76.6 150.2,75.8 150.7,75 151.2,74.2 151.6,73.4 152.1,72.6 152.6,71.8 153,71 153.4,70.2 153.8,69.4 154.2,68.6 154.6,67.7 155,66.9 155.4,66.1 155.8,65.3 156.1,64.4 156.4,63.6 156.8,62.7 157.1,61.9 157.4,61 157.7,60.2 158,59.3 158.2,58.5 158.5,57.6 158.7,56.7 158.9,55.8 159.2,55 159.4,54.1 159.5,53.2 159.7,52.3 159.9,51.4 160,50.5 160.2,49.6 160.3,48.7 160.4,47.8 160.5,46.8 160.5,45.9 160.6,45 160.6,44 160.7,43.1 160.7,42.1 160.7,41.2 160.7,40.2 160.6,39.2 160.6,38.2 160.5,37.3 160.5,36.3 160.4,35.2 172.7,34.1 172.8,35.2 172.9,36.4 172.9,37.6 173,38.8 173,40 173,41.1 173,42.3 173,43.5 172.9,44.6 172.8,45.7 172.8,46.9 172.7,48 172.5,49.1 172.4,50.2 172.2,51.3 172.1,52.4 171.9,53.5 171.7,54.6 171.4,55.7 171.2,56.8 170.9,57.8 170.7,58.9 170.4,59.9 170.1,61 169.8,62 169.4,63 169.1,64.1 168.7,65.1 168.4,66.1 168,67.1 167.6,68.1 167.2,69.1 166.8,70 166.3,71 165.9,72 165.4,72.9 164.9,73.9 164.5,74.8 164,75.8 163.5,76.7 162.9,77.6 162.4,78.5 161.9,79.4 161.3,80.4 160.8,81.3 160.2,82.1 159.6,83 159.1,83.9 158.5,84.8 157.9,85.7 157.3,86.5 156.7,87.4 156,88.2 155.4,89.1 154.8,89.9 154.1,90.8 153.5,91.6 152.8,92.4 152.1,93.3 151.5,94.1 150.8,94.9 150.1,95.7 149.4,96.5 148.7,97.3 148,98.1 147.3,98.9 146.6,99.7 145.9,100.5 145.2,101.2 144.5,102 143.7,102.8 143,103.5 142.3,104.3 141.5,105.1 140.8,105.8 140.1,106.6 139.3,107.3 138.6,108 137.8,108.8 137.1,109.5 136.3,110.2 135.6,111 134.8,111.7 134,112.4 133.3,113.1 132.5,113.9 131.7,114.6 131,115.3 130.2,116 129.5,116.7 128.7,117.4 127.9,118.1 127.2,118.8 126.4,119.5 125.6,120.1 124.9,120.8 124.1,121.5 123.3,122.2 122.6,122.9 121.8,123.5 121.1,124.2 120.3,124.9 119.6,125.6 118.8,126.2 118.1,126.9 117.3,127.6 116.6,128.2 115.9,128.9 115.1,129.5 114.4,130.2 113.7,130.8 113,131.5 112.3,132.1 111.5,132.8 110.8,133.4 110.1,134.1 109.4,134.7 108.8,135.4 108.1,136Z" fill="#ffd026"/>
<path d="M102,102.8 102.7,102.1 103.4,101.4 104.1,100.7 104.8,100 105.4,99.3 106.1,98.6 106.8,97.9 107.5,97.2 108.2,96.5 108.9,95.8 109.6,95.1 110.3,94.4 110.9,93.7 111.6,92.9 112.3,92.2 113,91.5 113.6,90.8 114.3,90 115,89.3 115.6,88.5 116.3,87.8 116.9,87 117.6,86.3 118.2,85.5 118.8,84.8 119.5,84 120.1,83.2 120.7,82.5 121.3,81.7 121.9,80.9 122.5,80.1 123.1,79.3 123.6,78.6 124.2,77.8 124.8,77 125.3,76.2 125.9,75.4 126.4,74.6 126.9,73.8 127.5,73 128,72.1 128.5,71.3 129,70.5 129.4,69.7 129.9,68.9 130.4,68 130.8,67.2 131.2,66.4 131.7,65.5 132.1,64.7 132.5,63.9 132.8,63 133.2,62.2 133.6,61.3 133.9,60.5 134.3,59.6 134.6,58.8 134.9,57.9 135.2,57 135.5,56.2 135.7,55.3 136,54.4 136.2,53.5 136.5,52.7 136.7,51.8 136.9,50.9 137,50 137.2,49.1 137.4,48.2 137.5,47.3 137.6,46.5 137.7,45.6 137.8,44.6 137.9,43.7 137.9,42.8 138,41.9 138,41 138,40.1 138,39.1 138,38.2 137.9,37.3 137.9,36.3 137.8,35.3 150.5,34.4 150.6,35.5 150.7,36.7 150.7,37.9 150.7,39 150.7,40.2 150.7,41.3 150.6,42.5 150.5,43.6 150.4,44.8 150.3,45.9 150.2,47 150,48.2 149.9,49.3 149.7,50.4 149.5,51.5 149.2,52.6 149,53.7 148.7,54.7 148.4,55.8 148.2,56.9 147.8,57.9 147.5,59 147.2,60 146.8,61 146.4,62.1 146,63.1 145.6,64.1 145.2,65.1 144.8,66.1 144.3,67.1 143.9,68.1 143.4,69.1 142.9,70 142.4,71 141.9,72 141.4,72.9 140.9,73.9 140.4,74.8 139.8,75.7 139.3,76.7 138.7,77.6 138.1,78.5 137.5,79.4 136.9,80.3 136.4,81.2 135.7,82.1 135.1,83 134.5,83.9 133.9,84.7 133.2,85.6 132.6,86.5 131.9,87.3 131.3,88.2 130.6,89 130,89.8 129.3,90.7 128.6,91.5 127.9,92.3 127.2,93.1 126.5,93.9 125.8,94.7 125.1,95.5 124.4,96.3 123.7,97.1 123,97.9 122.3,98.7 121.6,99.5 120.9,100.2 120.2,101 119.4,101.7 118.7,102.5 118,103.2 117.3,104 116.6,104.7 115.8,105.4 115.1,106.2 114.4,106.9 113.7,107.6 112.9,108.3 112.2,109 111.5,109.7 110.8,110.4 110.1,111.1Z" fill="#ffd026"/>
<path d="M103.3,75.8 104,75.1 104.6,74.4 105.2,73.7 105.7,73 106.3,72.3 106.8,71.5 107.4,70.8 107.9,70 108.4,69.2 109,68.5 109.4,67.7 109.9,66.9 110.4,66.1 110.9,65.3 111.3,64.5 111.8,63.6 112.2,62.8 112.6,62 113,61.1 113.4,60.3 113.8,59.4 114.1,58.6 114.5,57.7 114.8,56.8 115.1,56 115.4,55.1 115.7,54.2 116,53.3 116.3,52.4 116.5,51.5 116.8,50.6 117,49.7 117.2,48.8 117.4,47.9 117.5,47 117.7,46.1 117.9,45.2 118,44.3 118.1,43.4 118.2,42.5 118.3,41.6 118.4,40.7 118.4,39.7 118.5,38.8 118.5,37.9 118.5,37 118.5,36.1 118.5,35.1 131.5,34.9 131.5,36 131.5,37.1 131.4,38.2 131.4,39.4 131.3,40.5 131.3,41.6 131.2,42.8 131,43.9 130.9,45 130.7,46.1 130.6,47.2 130.4,48.3 130.2,49.5 129.9,50.6 129.7,51.7 129.4,52.8 129.1,53.9 128.8,54.9 128.5,56 128.2,57.1 127.8,58.2 127.5,59.2 127.1,60.3 126.7,61.4 126.3,62.4 125.9,63.4 125.4,64.5 125,65.5 124.5,66.5 124,67.6 123.5,68.6 123,69.6 122.5,70.5 121.9,71.5 121.3,72.5 120.8,73.5 120.2,74.4 119.6,75.4 118.9,76.3 118.3,77.2 117.7,78.1 117,79 116.3,79.9 115.6,80.8 114.9,81.7 114.2,82.6 113.5,83.4 112.8,84.2Z" fill="#ffd026"/>
<path d="M116.2,284.3a1.25,0.72 0 1 0 2.5,0a1.25,0.72 0 1 0 -2.5,0zM120.0,283.5a1.25,0.72 0 1 0 2.5,0a1.25,0.72 0 1 0 -2.5,0zM123.8,282.6a1.25,0.72 0 1 0 2.5,0a1.25,0.72 0 1 0 -2.5,0zM127.5,281.7a1.25,0.72 0 1 0 2.5,0a1.25,0.72 0 1 0 -2.5,0zM131.3,280.7a1.25,0.72 0 1 0 2.5,0a1.25,0.72 0 1 0 -2.5,0zM135.0,279.7a1.25,0.72 0 1 0 2.5,0a1.25,0.72 0 1 0 -2.5,0zM138.8,278.6a1.25,0.72 0 1 0 2.5,0a1.25,0.72 0 1 0 -2.5,0zM142.6,277.5a1.25,0.72 0 1 0 2.5,0a1.25,0.72 0 1 0 -2.5,0zM146.3,276.4a1.25,0.72 0 1 0 2.5,0a1.25,0.72 0 1 0 -2.5,0zM150.1,275.2a1.25,0.72 0 1 0 2.5,0a1.25,0.72 0 1 0 -2.5,0zM153.8,273.9a1.25,0.72 0 1 0 2.5,0a1.25,0.72 0 1 0 -2.5,0zM157.6,272.7a1.25,0.72 0 1 0 2.5,0a1.25,0.72 0 1 0 -2.5,0zM161.3,271.4a1.25,0.72 0 1 0 2.5,0a1.25,0.72 0 1 0 -2.5,0zM165.1,270.0a1.25,0.72 0 1 0 2.5,0a1.25,0.72 0 1 0 -2.5,0zM168.9,268.6a1.25,0.72 0 1 0 2.5,0a1.25,0.72 0 1 0 -2.5,0zM172.6,267.2a1.25,0.72 0 1 0 2.5,0a1.25,0.72 0 1 0 -2.5,0zM176.4,265.8a1.25,0.72 0 1 0 2.5,0a1.25,0.72 0 1 0 -2.5,0zM180.1,264.3a1.25,0.72 0 1 0 2.5,0a1.25,0.72 0 1 0 -2.5,0zM183.9,262.9a1.25,0.72 0 1 0 2.5,0a1.25,0.72 0 1 0 -2.5,0zM187.7,261.4a1.25,0.72 0 1 0 2.5,0a1.25,0.72 0 1 0 -2.5,0zM191.4,259.8a1.25,0.72 0 1 0 2.5,0a1.25,0.72 0 1 0 -2.5,0zM195.2,258.3a1.25,0.72 0 1 0 2.5,0a1.25,0.72 0 1 0 -2.5,0zM198.9,256.8a1.25,0.72 0 1 0 2.5,0a1.25,0.72 0 1 0 -2.5,0zM202.7,255.2a1.25,0.72 0 1 0 2.5,0a1.25,0.72 0 1 0 -2.5,0zM206.4,253.6a1.25,0.72 0 1 0 2.5,0a1.25,0.72 0 1 0 -2.5,0zM210.2,252.0a1.25,0.74 0 1 0 2.5,0a1.25,0.74 0 1 0 -2.5,0zM214.0,250.4a1.25,0.75 0 1 0 2.5,0a1.25,0.75 0 1 0 -2.5,0zM217.7,248.8a1.25,0.77 0 1 0 2.5,0a1.25,0.77 0 1 0 -2.5,0zM221.5,247.1a1.25,0.79 0 1 0 2.5,0a1.25,0.79 0 1 0 -2.5,0zM225.2,245.4a1.25,0.81 0 1 0 2.5,0a1.25,0.81 0 1 0 -2.5,0zM229.0,243.8a1.25,0.82 0 1 0 2.5,0a1.25,0.82 0 1 0 -2.5,0zM232.8,242.1a1.25,0.84 0 1 0 2.5,0a1.25,0.84 0 1 0 -2.5,0zM236.5,240.4a1.25,0.85 0 1 0 2.5,0a1.25,0.85 0 1 0 -2.5,0zM240.3,238.6a1.25,0.87 0 1 0 2.5,0a1.25,0.87 0 1 0 -2.5,0zM244.0,236.9a1.25,0.89 0 1 0 2.5,0a1.25,0.89 0 1 0 -2.5,0zM247.8,235.1a1.25,0.90 0 1 0 2.5,0a1.25,0.90 0 1 0 -2.5,0zM251.6,233.4a1.25,0.92 0 1 0 2.5,0a1.25,0.92 0 1 0 -2.5,0zM255.3,231.6a1.25,0.94 0 1 0 2.5,0a1.25,0.94 0 1 0 -2.5,0zM259.1,229.7a1.25,0.96 0 1 0 2.5,0a1.25,0.96 0 1 0 -2.5,0zM262.8,227.9a1.25,0.97 0 1 0 2.5,0a1.25,0.97 0 1 0 -2.5,0zM266.6,226.1a1.25,0.99 0 1 0 2.5,0a1.25,0.99 0 1 0 -2.5,0zM270.3,224.2a1.25,1.01 0 1 0 2.5,0a1.25,1.01 0 1 0 -2.5,0zM274.1,222.3a1.25,1.02 0 1 0 2.5,0a1.25,1.02 0 1 0 -2.5,0zM277.9,220.4a1.25,1.04 0 1 0 2.5,0a1.25,1.04 0 1 0 -2.5,0zM281.6,218.4a1.25,1.06 0 1 0 2.5,0a1.25,1.06 0 1 0 -2.5,0zM285.4,216.4a1.25,1.07 0 1 0 2.5,0a1.25,1.07 0 1 0 -2.5,0zM289.1,214.4a1.25,1.07 0 1 0 2.5,0a1.25,1.07 0 1 0 -2.5,0zM292.9,212.3a1.25,1.07 0 1 0 2.5,0a1.25,1.07 0 1 0 -2.5,0zM296.6,210.2a1.25,1.07 0 1 0 2.5,0a1.25,1.07 0 1 0 -2.5,0zM300.4,208.0a1.26,1.07 0 1 0 2.5,0a1.26,1.07 0 1 0 -2.5,0zM304.1,205.7a1.27,1.07 0 1 0 2.5,0a1.27,1.07 0 1 0 -2.5,0zM307.9,203.4a1.27,1.07 0 1 0 2.5,0a1.27,1.07 0 1 0 -2.5,0zM311.7,201.0a1.28,1.07 0 1 0 2.6,0a1.28,1.07 0 1 0 -2.6,0zM315.4,198.5a1.28,1.07 0 1 0 2.6,0a1.28,1.07 0 1 0 -2.6,0zM319.2,195.9a1.29,1.07 0 1 0 2.6,0a1.29,1.07 0 1 0 -2.6,0zM322.9,193.3a1.30,1.07 0 1 0 2.6,0a1.30,1.07 0 1 0 -2.6,0zM326.7,190.5a1.30,1.07 0 1 0 2.6,0a1.30,1.07 0 1 0 -2.6,0zM330.4,187.6a1.31,1.07 0 1 0 2.6,0a1.31,1.07 0 1 0 -2.6,0zM334.2,184.7a1.32,1.07 0 1 0 2.6,0a1.32,1.07 0 1 0 -2.6,0zM337.9,181.6a1.32,1.07 0 1 0 2.6,0a1.32,1.07 0 1 0 -2.6,0zM341.7,178.5a1.33,1.07 0 1 0 2.7,0a1.33,1.07 0 1 0 -2.7,0zM345.4,175.3a1.35,1.07 0 1 0 2.7,0a1.35,1.07 0 1 0 -2.7,0zM349.2,172.0a1.36,1.07 0 1 0 2.7,0a1.36,1.07 0 1 0 -2.7,0zM352.9,168.7a1.37,1.07 0 1 0 2.7,0a1.37,1.07 0 1 0 -2.7,0zM356.6,165.3a1.39,1.07 0 1 0 2.8,0a1.39,1.07 0 1 0 -2.8,0zM360.4,161.8a1.40,1.07 0 1 0 2.8,0a1.40,1.07 0 1 0 -2.8,0zM364.1,158.3a1.41,1.07 0 1 0 2.8,0a1.41,1.07 0 1 0 -2.8,0zM367.9,154.6a1.43,1.07 0 1 0 2.9,0a1.43,1.07 0 1 0 -2.9,0zM371.6,150.8a1.44,1.09 0 1 0 2.9,0a1.44,1.09 0 1 0 -2.9,0zM375.4,146.8a1.46,1.14 0 1 0 2.9,0a1.46,1.14 0 1 0 -2.9,0zM379.1,142.6a1.47,1.19 0 1 0 2.9,0a1.47,1.19 0 1 0 -2.9,0zM382.9,138.1a1.49,1.25 0 1 0 3.0,0a1.49,1.25 0 1 0 -3.0,0zM386.6,133.4a1.51,1.34 0 1 0 3.0,0a1.51,1.34 0 1 0 -3.0,0zM390.3,128.3a1.52,1.44 0 1 0 3.0,0a1.52,1.44 0 1 0 -3.0,0zM394.1,122.6a1.54,1.58 0 1 0 3.1,0a1.54,1.58 0 1 0 -3.1,0zM397.8,116.2a1.58,1.78 0 1 0 3.2,0a1.58,1.78 0 1 0 -3.2,0zM401.4,108.8a1.68,2.20 0 1 0 3.4,0a1.68,2.20 0 1 0 -3.4,0zM405.1,99.5a1.80,2.35 0 1 0 3.6,0a1.80,2.35 0 1 0 -3.6,0zM408.7,85.6a1.97,2.57 0 1 0 3.9,0a1.97,2.57 0 1 0 -3.9,0zM408.3,54.6a2.31,3.01 0 1 0 4.6,0a2.31,3.01 0 1 0 -4.6,0zM404.4,41.9a2.45,3.20 0 1 0 4.9,0a2.45,3.20 0 1 0 -4.9,0z" fill="#ff0000" stroke="#ff0000" stroke-width="0.5" stroke-linejoin="round"/>
<path d="M103.9,286.8 104.9,286.7 105.9,286.5 106.9,286.3 107.9,286.2 108.9,286 109.9,285.8 110.9,285.6 111.9,285.4 112.9,285.2 113.9,285 114.9,284.8 115.9,284.6 116.9,284.4 117.8,284.2 118.8,284 119.8,283.8 120.8,283.6 121.8,283.4 122.8,283.1 123.7,282.9 124.7,282.7 125.7,282.4 126.7,282.2 127.7,282 128.6,281.7 129.6,281.5 130.6,281.2 131.5,281 132.5,280.7 133.5,280.5 134.5,280.2 135.4,279.9 136.4,279.7 137.3,279.4 138.3,279.1 139.3,278.8 140.2,278.6 141.2,278.3 142.2,278 143.1,277.7 144.1,277.4 145,277.1 146,276.8 146.9,276.6 147.9,276.3 148.9,276 149.8,275.7 150.8,275.3 151.7,275 152.7,274.7 153.6,274.4 154.6,274.1 155.5,273.8 156.5,273.5 157.4,273.1 158.4,272.8 159.3,272.5 160.2,272.2 161.2,271.8 162.1,271.5 163.1,271.2 164,270.8 165,270.5 165.9,270.2 166.8,269.8 167.8,269.5 168.7,269.2 169.7,268.8 170.6,268.5 171.5,268.1 172.5,267.8 173.4,267.4 174.4,267.1 175.3,266.7 176.2,266.3 177.2,266 178.1,265.6 179,265.3 180,264.9 180.9,264.5 181.8,264.2 182.8,263.8 183.7,263.4 184.6,263.1 185.6,262.7 186.5,262.3 187.4,262 188.3,261.6 189.3,261.2 190.2,260.8 191.1,260.5 192.1,260.1 193,259.7 193.9,259.3 194.9,259 195.8,258.6 196.7,258.2 197.6,257.8 198.6,257.4 199.5,257 200.4,256.7 201.3,256.3 202.3,255.9 203.2,255.5 204.1,255.1 205.1,254.7 206,254.3 206.9,253.9 207.8,253.5 208.8,253.1 209.7,252.8 210.6,252.4 211.5,252 212.5,251.6 213.4,251.2 214.3,250.8 215.2,250.4 216.2,250 217.1,249.6 218,249.2 218.9,248.8 219.8,248.4 220.8,248 221.7,247.6 222.6,247.2 223.5,246.8 224.4,246.4 225.4,245.9 226.3,245.5 227.2,245.1 228.1,244.7 229,244.3 230,243.9 230.9,243.5 231.8,243.1 232.7,242.7 233.6,242.2 234.6,241.8 235.5,241.4 236.4,241 237.3,240.6 238.2,240.2 239.1,239.7 240,239.3 241,238.9 241.9,238.5 242.8,238.1 243.7,237.6 244.6,237.2 245.5,236.8 246.4,236.4 247.3,235.9 248.3,235.5 249.2,235.1 250.1,234.6 251,234.2 251.9,233.8 252.8,233.4 253.7,232.9 254.6,232.5 255.5,232.1 256.4,231.6 257.3,231.2 258.3,230.7 259.2,230.3 260.1,229.9 261,229.4 261.9,229 262.8,228.5 263.7,228.1 264.6,227.7 265.5,227.2 266.4,226.8 267.3,226.3 268.2,225.9 269.1,225.4 270,225 270.9,224.5 271.8,224.1 272.7,223.6 273.6,223.2 274.5,222.7 275.4,222.3 276.3,221.8 277.2,221.4 278,220.9 278.9,220.5 279.8,220 280.7,219.5 281.6,219.1 282.5,218.6 283.4,218.1 284.3,217.7 285.2,217.2 286,216.7 286.9,216.3 287.8,215.8 288.7,215.3 289.6,214.8 290.4,214.4 291.3,213.9 292.2,213.4 293.1,212.9 293.9,212.4 294.8,211.9 295.7,211.4 296.6,211 297.4,210.5 298.3,210 299.1,209.5 300,209 300.9,208.5 301.7,207.9 302.6,207.4 303.4,206.9 304.3,206.4 305.2,205.9 306,205.4 306.9,204.9 307.7,204.3 308.5,203.8 309.4,203.3 310.2,202.7 311.1,202.2 311.9,201.7 312.7,201.1 313.6,200.6 314.4,200 315.2,199.5 316.1,198.9 316.9,198.4 317.7,197.8 318.5,197.3 319.4,196.7 320.2,196.1 321,195.6 321.8,195 322.6,194.4 323.4,193.8 324.2,193.3 325,192.7 325.8,192.1 326.6,191.5 327.4,190.9 328.2,190.3 329,189.7 329.8,189.1 330.6,188.5 331.4,187.9 332.2,187.3 333,186.7 333.8,186 334.5,185.4 335.3,184.8 336.1,184.2 336.9,183.5 337.7,182.9 338.4,182.3 339.2,181.7 340,181 340.8,180.4 341.5,179.7 342.3,179.1 343.1,178.4 343.8,177.8 344.6,177.1 345.4,176.5 346.1,175.8 346.9,175.2 347.7,174.5 348.4,173.9 349.2,173.2 349.9,172.5 350.7,171.9 351.5,171.2 352.2,170.5 353,169.9 353.7,169.2 354.5,168.5 355.2,167.8" fill="none" stroke="#ff0000" stroke-width="0.7"/>
<path d="M115.1,237.4L116.1,236.6L117.5,236.0L118.9,236.6L119.9,237.4L118.9,238.2L117.5,238.7L116.1,238.2ZM118.8,235.8L119.8,235.0L121.3,234.4L122.7,235.0L123.7,235.8L122.7,236.6L121.3,237.1L119.8,236.6ZM122.6,234.1L123.6,233.3L125.0,232.8L126.4,233.3L127.5,234.1L126.4,234.9L125.0,235.5L123.6,234.9ZM126.3,232.5L127.4,231.7L128.8,231.2L130.2,231.7L131.2,232.5L130.2,233.3L128.8,233.9L127.4,233.3ZM130.1,231.0L131.1,230.2L132.5,229.6L134.0,230.2L135.0,231.0L134.0,231.8L132.5,232.3L131.1,231.8ZM133.8,229.4L134.9,228.6L136.3,228.0L137.7,228.6L138.8,229.4L137.7,230.2L136.3,230.8L134.9,230.2ZM137.6,227.8L138.6,227.0L140.1,226.4L141.5,227.0L142.5,227.8L141.5,228.6L140.1,229.2L138.6,228.6ZM141.3,226.2L142.4,225.4L143.8,224.8L145.2,225.4L146.3,226.2L145.2,227.0L143.8,227.6L142.4,227.0ZM145.1,224.6L146.1,223.8L147.6,223.2L149.0,223.8L150.0,224.6L149.0,225.4L147.6,226.0L146.1,225.4ZM148.8,222.9L149.9,222.1L151.3,221.5L152.8,222.1L153.8,222.9L152.8,223.7L151.3,224.3L149.9,223.7ZM152.6,221.3L153.6,220.5L155.1,219.9L156.5,220.5L157.6,221.3L156.5,222.1L155.1,222.7L153.6,222.1ZM156.4,219.6L157.4,218.8L158.8,218.2L160.3,218.8L161.3,219.6L160.3,220.4L158.8,221.0L157.4,220.4ZM160.1,217.9L161.2,217.1L162.6,216.5L164.0,217.1L165.1,217.9L164.0,218.7L162.6,219.3L161.2,218.7ZM163.9,216.2L164.9,215.4L166.4,214.8L167.8,215.4L168.9,216.2L167.8,217.0L166.4,217.6L164.9,217.0ZM167.6,214.4L168.7,213.6L170.1,213.0L171.6,213.6L172.6,214.4L171.6,215.2L170.1,215.8L168.7,215.2ZM171.4,212.6L172.4,211.8L173.9,211.2L175.3,211.8L176.4,212.6L175.3,213.4L173.9,214.0L172.4,213.4ZM175.1,210.7L176.2,209.9L177.6,209.3L179.1,209.9L180.1,210.7L179.1,211.5L177.6,212.1L176.2,211.5ZM178.9,208.8L179.9,208.0L181.4,207.4L182.8,208.0L183.9,208.8L182.8,209.6L181.4,210.2L179.9,209.6ZM182.6,206.9L183.7,206.0L185.2,205.4L186.6,206.0L187.7,206.9L186.6,207.7L185.2,208.3L183.7,207.7ZM186.4,204.9L187.4,204.0L188.9,203.5L190.4,204.0L191.4,204.9L190.4,205.7L188.9,206.3L187.4,205.7ZM190.1,202.8L191.2,202.0L192.7,201.4L194.1,202.0L195.2,202.8L194.1,203.7L192.7,204.3L191.2,203.7ZM193.9,200.7L195.0,199.9L196.4,199.3L197.9,199.9L199.0,200.7L197.9,201.6L196.4,202.2L195.0,201.6ZM197.6,198.6L198.7,197.8L200.2,197.2L201.7,197.8L202.7,198.6L201.7,199.4L200.2,200.0L198.7,199.4ZM201.4,196.4L202.5,195.6L203.9,195.0L205.4,195.6L206.5,196.4L205.4,197.3L203.9,197.9L202.5,197.3ZM205.2,194.2L206.2,193.4L207.7,192.8L209.2,193.4L210.2,194.2L209.2,195.0L207.7,195.6L206.2,195.0ZM208.9,191.9L210.0,191.1L211.5,190.5L212.9,191.1L214.0,191.9L212.9,192.8L211.5,193.4L210.0,192.8ZM212.7,189.6L213.7,188.8L215.2,188.2L216.7,188.8L217.8,189.6L216.7,190.5L215.2,191.1L213.7,190.5ZM216.4,187.2L217.5,186.4L219.0,185.8L220.5,186.4L221.5,187.2L220.5,188.1L219.0,188.7L217.5,188.1ZM220.2,184.8L221.2,184.0L222.7,183.4L224.2,184.0L225.3,184.8L224.2,185.7L222.7,186.3L221.2,185.7ZM223.9,182.4L225.0,181.5L226.5,180.9L228.0,181.5L229.1,182.4L228.0,183.2L226.5,183.8L225.0,183.2ZM227.7,179.8L228.8,179.0L230.2,178.4L231.7,179.0L232.8,179.8L231.7,180.7L230.2,181.3L228.8,180.7ZM231.4,177.3L232.5,176.4L234.0,175.8L235.5,176.4L236.6,177.3L235.5,178.1L234.0,178.8L232.5,178.1ZM235.2,174.7L236.3,173.8L237.8,173.1L239.3,173.8L240.4,174.7L239.3,175.5L237.8,176.2L236.3,175.5ZM238.9,172.0L240.0,171.1L241.5,170.4L243.0,171.1L244.1,172.0L243.0,172.9L241.5,173.5L240.0,172.9ZM242.7,169.2L243.8,168.3L245.3,167.7L246.8,168.3L247.9,169.2L246.8,170.2L245.3,170.8L243.8,170.2ZM246.4,166.4L247.5,165.5L249.0,164.9L250.6,165.5L251.6,166.4L250.6,167.4L249.0,168.0L247.5,167.4ZM250.2,163.6L251.3,162.6L252.8,162.0L254.3,162.6L255.4,163.6L254.3,164.5L252.8,165.2L251.3,164.5ZM253.9,160.6L255.0,159.7L256.6,159.0L258.1,159.7L259.2,160.6L258.1,161.6L256.6,162.3L255.0,161.6ZM257.7,157.6L258.8,156.7L260.3,155.9L261.8,156.7L262.9,157.6L261.8,158.6L260.3,159.3L258.8,158.6ZM261.5,154.5L262.6,153.5L264.1,152.8L265.6,153.5L266.7,154.5L265.6,155.5L264.1,156.3L262.6,155.5ZM265.2,151.4L266.3,150.3L267.8,149.6L269.4,150.3L270.5,151.4L269.4,152.4L267.8,153.1L266.3,152.4ZM269.0,148.1L270.1,147.0L271.6,146.3L273.1,147.0L274.2,148.1L273.1,149.1L271.6,149.9L270.1,149.1ZM272.7,144.7L273.8,143.7L275.4,142.9L276.9,143.7L278.0,144.7L276.9,145.8L275.4,146.5L273.8,145.8ZM276.5,141.2L277.6,140.1L279.1,139.4L280.6,140.1L281.8,141.2L280.6,142.3L279.1,143.1L277.6,142.3ZM280.2,137.6L281.3,136.5L282.9,135.7L284.4,136.5L285.5,137.6L284.4,138.7L282.9,139.6L281.3,138.7ZM284.0,133.9L285.1,132.7L286.6,131.9L288.2,132.7L289.3,133.9L288.2,135.0L286.6,135.9L285.1,135.0ZM287.7,130.0L288.8,128.8L290.4,127.9L291.9,128.8L293.0,130.0L291.9,131.1L290.4,132.0L288.8,131.1ZM291.5,125.8L292.6,124.6L294.1,123.7L295.7,124.6L296.8,125.8L295.7,127.1L294.1,128.0L292.6,127.1ZM295.2,121.4L296.3,120.1L297.9,119.2L299.5,120.1L300.6,121.4L299.5,122.7L297.9,123.7L296.3,122.7ZM299.0,116.7L300.1,115.3L301.7,114.3L303.2,115.3L304.3,116.7L303.2,118.1L301.7,119.1L300.1,118.1ZM302.7,111.6L303.9,110.1L305.4,109.0L307.0,110.1L308.1,111.6L307.0,113.1L305.4,114.1L303.9,113.1ZM306.5,105.9L307.6,104.3L309.2,103.1L310.7,104.3L311.9,105.9L310.7,107.5L309.2,108.7L307.6,107.5ZM310.2,99.5L311.4,97.7L312.9,96.4L314.5,97.7L315.6,99.5L314.5,101.3L312.9,102.6L311.4,101.3ZM314.0,91.9L315.1,89.7L316.7,88.2L318.3,89.7L319.4,91.9L318.3,94.0L316.7,95.6L315.1,94.0ZM317.7,81.9L318.9,79.4L320.4,77.7L322.0,79.4L323.2,81.9L322.0,84.3L320.4,86.1L318.9,84.3Z" fill="#ff0000" stroke="#ff0000" stroke-width="0.5" stroke-linejoin="round"/>
<path d="M104,243.4 104.9,243 105.8,242.6 106.7,242.2 107.6,241.7 108.5,241.3 109.4,240.9 110.4,240.5 111.3,240.1 112.2,239.7 113.1,239.3 114,238.9 115,238.5 115.9,238.1 116.8,237.7 117.7,237.3 118.6,236.9 119.6,236.5 120.5,236.1 121.4,235.7 122.3,235.3 123.3,234.9 124.2,234.5 125.1,234.1 126,233.7 127,233.3 127.9,232.9 128.8,232.5 129.7,232.1 130.7,231.7 131.6,231.3 132.5,231 133.5,230.6 134.4,230.2 135.3,229.8 136.2,229.4 137.2,229 138.1,228.6 139,228.2 140,227.8 140.9,227.4 141.8,227 142.7,226.6 143.7,226.2 144.6,225.8 145.5,225.4 146.5,225 147.4,224.6 148.3,224.2 149.2,223.8 150.2,223.4 151.1,223 152,222.6 152.9,222.2 153.8,221.8 154.8,221.4 155.7,221 156.6,220.6 157.5,220.2 158.5,219.8 159.4,219.4 160.3,219 161.2,218.5 162.1,218.1 163,217.7 164,217.3 164.9,216.9 165.8,216.4 166.7,216 167.6,215.6 168.5,215.2 169.4,214.7 170.3,214.3 171.2,213.9 172.2,213.4 173.1,213 174,212.5 174.9,212.1 175.8,211.7 176.7,211.2 177.6,210.8 178.5,210.3 179.4,209.9 180.3,209.4 181.2,208.9 182.1,208.5 182.9,208 183.8,207.6 184.7,207.1 185.6,206.6 186.5,206.2 187.4,205.7 188.3,205.2 189.2,204.7 190,204.3 190.9,203.8 191.8,203.3 192.7,202.8 193.6,202.3 194.5,201.8 195.3,201.4 196.2,200.9 197.1,200.4 198,199.9 198.8,199.4 199.7,198.9 200.6,198.4 201.4,197.9 202.3,197.4 203.2,196.9 204,196.4 204.9,195.9 205.8,195.4 206.6,194.8 207.5,194.3" fill="none" stroke="#ff0000" stroke-width="2.3"/>
<path d="M114.8,200.9L115.9,200.1L117.5,199.4L119.1,200.1L120.2,200.9L119.1,201.8L117.5,202.4L115.9,201.8ZM118.6,199.2L119.7,198.3L121.3,197.7L122.8,198.3L123.9,199.2L122.8,200.1L121.3,200.7L119.7,200.1ZM122.3,197.4L123.5,196.5L125.0,195.9L126.6,196.5L127.7,197.4L126.6,198.3L125.0,198.9L123.5,198.3ZM126.1,195.5L127.2,194.6L128.8,194.0L130.3,194.6L131.5,195.5L130.3,196.4L128.8,197.0L127.2,196.4ZM129.8,193.6L131.0,192.7L132.5,192.1L134.1,192.7L135.2,193.6L134.1,194.5L132.5,195.1L131.0,194.5ZM133.6,191.6L134.7,190.7L136.3,190.1L137.9,190.7L139.0,191.6L137.9,192.5L136.3,193.1L134.7,192.5ZM137.4,189.6L138.5,188.7L140.1,188.0L141.6,188.7L142.7,189.6L141.6,190.4L140.1,191.1L138.5,190.4ZM141.1,187.5L142.2,186.6L143.8,185.9L145.4,186.6L146.5,187.5L145.4,188.3L143.8,189.0L142.2,188.3ZM144.9,185.3L146.0,184.4L147.6,183.8L149.1,184.4L150.3,185.3L149.1,186.2L147.6,186.8L146.0,186.2ZM148.6,183.1L149.8,182.2L151.3,181.6L152.9,182.2L154.0,183.1L152.9,184.0L151.3,184.6L149.8,184.0ZM152.4,180.8L153.5,180.0L155.1,179.3L156.7,180.0L157.8,180.8L156.7,181.7L155.1,182.4L153.5,181.7ZM156.1,178.5L157.3,177.6L158.8,177.0L160.4,177.6L161.6,178.5L160.4,179.4L158.8,180.1L157.3,179.4ZM159.9,176.2L161.0,175.3L162.6,174.6L164.2,175.3L165.3,176.2L164.2,177.0L162.6,177.7L161.0,177.0ZM163.6,173.7L164.8,172.9L166.4,172.2L167.9,172.9L169.1,173.7L167.9,174.6L166.4,175.3L164.8,174.6ZM167.4,171.3L168.5,170.4L170.1,169.7L171.7,170.4L172.8,171.3L171.7,172.2L170.1,172.8L168.5,172.2ZM171.1,168.8L172.3,167.9L173.9,167.2L175.5,167.9L176.6,168.8L175.5,169.7L173.9,170.3L172.3,169.7ZM174.9,166.2L176.0,165.3L177.6,164.6L179.2,165.3L180.4,166.2L179.2,167.1L177.6,167.8L176.0,167.1ZM178.6,163.6L179.8,162.7L181.4,162.0L183.0,162.7L184.1,163.6L183.0,164.5L181.4,165.2L179.8,164.5ZM182.4,161.0L183.6,160.0L185.2,159.4L186.7,160.0L187.9,161.0L186.7,161.9L185.2,162.6L183.6,161.9ZM186.2,158.3L187.3,157.4L188.9,156.7L190.5,157.4L191.7,158.3L190.5,159.3L188.9,159.9L187.3,159.3ZM189.9,155.6L191.1,154.6L192.7,153.9L194.3,154.6L195.4,155.6L194.3,156.5L192.7,157.2L191.1,156.5ZM193.7,152.8L194.8,151.8L196.4,151.1L198.0,151.8L199.2,152.8L198.0,153.8L196.4,154.5L194.8,153.8ZM197.4,150.0L198.6,149.0L200.2,148.3L201.8,149.0L203.0,150.0L201.8,151.0L200.2,151.7L198.6,151.0ZM201.2,147.1L202.3,146.1L203.9,145.4L205.5,146.1L206.7,147.1L205.5,148.1L203.9,148.9L202.3,148.1ZM204.9,144.2L206.1,143.1L207.7,142.4L209.3,143.1L210.5,144.2L209.3,145.2L207.7,145.9L206.1,145.2ZM208.7,141.1L209.8,140.1L211.5,139.3L213.1,140.1L214.2,141.1L213.1,142.2L211.5,142.9L209.8,142.2ZM212.4,138.0L213.6,136.9L215.2,136.1L216.8,136.9L218.0,138.0L216.8,139.0L215.2,139.8L213.6,139.0ZM216.2,134.7L217.4,133.6L219.0,132.8L220.6,133.6L221.8,134.7L220.6,135.8L219.0,136.6L217.4,135.8ZM219.9,131.4L221.1,130.2L222.7,129.4L224.4,130.2L225.5,131.4L224.4,132.5L222.7,133.3L221.1,132.5ZM223.7,127.9L224.9,126.7L226.5,125.9L228.1,126.7L229.3,127.9L228.1,129.0L226.5,129.9L224.9,129.0ZM227.4,124.2L228.6,123.0L230.2,122.1L231.9,123.0L233.1,124.2L231.9,125.4L230.2,126.3L228.6,125.4ZM231.2,120.3L232.4,119.1L234.0,118.2L235.6,119.1L236.8,120.3L235.6,121.6L234.0,122.5L232.4,121.6ZM235.0,116.3L236.1,115.0L237.8,114.0L239.4,115.0L240.6,116.3L239.4,117.6L237.8,118.5L236.1,117.6ZM238.7,112.0L239.9,110.6L241.5,109.6L243.2,110.6L244.3,112.0L243.2,113.3L241.5,114.3L239.9,113.3ZM242.5,107.3L243.6,105.9L245.3,104.9L246.9,105.9L248.1,107.3L246.9,108.8L245.3,109.8L243.6,108.8ZM246.2,102.4L247.4,100.8L249.0,99.7L250.7,100.8L251.9,102.4L250.7,103.9L249.0,105.0L247.4,103.9ZM250.0,96.9L251.2,95.2L252.8,94.0L254.4,95.2L255.6,96.9L254.4,98.5L252.8,99.7L251.2,98.5ZM253.7,90.7L254.9,88.8L256.6,87.4L258.2,88.8L259.4,90.7L258.2,92.5L256.6,93.9L254.9,92.5ZM257.5,83.3L258.7,81.2L260.3,79.6L262.0,81.2L263.2,83.3L262.0,85.5L260.3,87.1L258.7,85.5ZM261.2,74.0L262.4,71.4L264.1,69.6L265.7,71.4L266.9,74.0L265.7,76.6L264.1,78.4L262.4,76.6Z" fill="#ff0000" stroke="#ff0000" stroke-width="0.5" stroke-linejoin="round"/>
<path d="M104,206.8 104.9,206.4 105.8,206 106.8,205.6 107.7,205.2 108.7,204.8 109.6,204.4 110.5,204 111.5,203.6 112.4,203.2 113.3,202.8 114.3,202.4 115.2,202 116.1,201.6 117,201.2 117.9,200.7 118.9,200.3 119.8,199.9 120.7,199.5 121.6,199 122.5,198.6 123.4,198.2 124.3,197.7 125.2,197.3 126.1,196.8 127,196.4 127.9,195.9 128.8,195.5 129.7,195 130.6,194.6 131.5,194.1 132.4,193.7 133.3,193.2 134.2,192.7 135,192.3 135.9,191.8 136.8,191.3 137.7,190.9 138.6,190.4 139.4,189.9 140.3,189.4 141.2,188.9 142.1,188.4 142.9,188 143.8,187.5 144.7,187 145.5,186.5 146.4,186 147.3,185.5 148.1,185 149,184.5 149.8,184 150.7,183.5 151.6,183 152.4,182.4 153.3,181.9 154.1,181.4 155,180.9 155.8,180.4 156.7,179.9 157.5,179.3 158.4,178.8 159.2,178.3 160.1,177.8 160.9,177.2 161.8,176.7 162.6,176.2 163.4,175.6 164.3,175.1 165.1,174.5 166,174 166.8,173.5 167.6,172.9 168.5,172.4 169.3,171.8 170.1,171.3 171,170.7 171.8,170.2 172.6,169.6 173.5,169 174.3,168.5 175.1,167.9 176,167.4 176.8,166.8 177.6,166.2 178.4,165.7 179.3,165.1 180.1,164.5 180.9,163.9 181.8,163.4 182.6,162.8 183.4,162.2 184.2,161.6 185,161.1 185.9,160.5 186.7,159.9 187.5,159.3 188.3,158.7 189.2,158.1 190,157.5 190.8,156.9 191.6,156.4 192.4,155.8 193.2,155.2 194.1,154.6 194.9,154 195.7,153.4 196.5,152.8 197.3,152.2 198.1,151.5" fill="none" stroke="#ff0000" stroke-width="2.4"/>
<path d="M114.5,169.6L115.7,168.6L117.5,167.8L119.3,168.6L120.5,169.6L119.3,170.6L117.5,171.3L115.7,170.6ZM118.2,167.0L119.5,166.0L121.3,165.3L123.0,166.0L124.3,167.0L123.0,168.0L121.3,168.8L119.5,168.0ZM122.0,164.5L123.3,163.5L125.0,162.8L126.8,163.5L128.1,164.5L126.8,165.5L125.0,166.3L123.3,165.5ZM125.7,162.0L127.0,161.0L128.8,160.3L130.5,161.0L131.8,162.0L130.5,163.0L128.8,163.8L127.0,163.0ZM129.5,159.6L130.8,158.6L132.5,157.8L134.3,158.6L135.6,159.6L134.3,160.6L132.5,161.3L130.8,160.6ZM133.2,157.1L134.5,156.1L136.3,155.4L138.1,156.1L139.3,157.1L138.1,158.1L136.3,158.8L134.5,158.1ZM137.0,154.6L138.3,153.6L140.1,152.9L141.8,153.6L143.1,154.6L141.8,155.6L140.1,156.3L138.3,155.6ZM140.8,152.1L142.0,151.1L143.8,150.4L145.6,151.1L146.9,152.1L145.6,153.1L143.8,153.8L142.0,153.1ZM144.5,149.6L145.8,148.6L147.6,147.9L149.3,148.6L150.6,149.6L149.3,150.6L147.6,151.4L145.8,150.6ZM148.3,147.1L149.6,146.0L151.3,145.3L153.1,146.0L154.4,147.1L153.1,148.1L151.3,148.8L149.6,148.1ZM152.0,144.5L153.3,143.5L155.1,142.7L156.9,143.5L158.1,144.5L156.9,145.5L155.1,146.3L153.3,145.5ZM155.8,141.9L157.1,140.8L158.8,140.1L160.6,140.8L161.9,141.9L160.6,142.9L158.8,143.7L157.1,142.9ZM159.5,139.2L160.8,138.1L162.6,137.4L164.4,138.1L165.7,139.2L164.4,140.3L162.6,141.0L160.8,140.3ZM163.3,136.5L164.6,135.4L166.4,134.6L168.1,135.4L169.4,136.5L168.1,137.5L166.4,138.3L164.6,137.5ZM167.0,133.6L168.3,132.5L170.1,131.8L171.9,132.5L173.2,133.6L171.9,134.7L170.1,135.5L168.3,134.7ZM170.8,130.7L172.1,129.6L173.9,128.8L175.7,129.6L177.0,130.7L175.7,131.9L173.9,132.7L172.1,131.9ZM174.6,127.7L175.8,126.6L177.6,125.8L179.4,126.6L180.7,127.7L179.4,128.9L177.6,129.7L175.8,128.9ZM178.3,124.6L179.6,123.4L181.4,122.6L183.2,123.4L184.5,124.6L183.2,125.8L181.4,126.6L179.6,125.8ZM182.1,121.3L183.4,120.1L185.2,119.2L186.9,120.1L188.2,121.3L186.9,122.6L185.2,123.4L183.4,122.6ZM185.8,117.9L187.1,116.7L188.9,115.7L190.7,116.7L192.0,117.9L190.7,119.2L188.9,120.1L187.1,119.2ZM189.6,114.3L190.9,113.0L192.7,112.0L194.5,113.0L195.8,114.3L194.5,115.6L192.7,116.5L190.9,115.6ZM193.3,110.4L194.6,109.1L196.4,108.1L198.2,109.1L199.5,110.4L198.2,111.8L196.4,112.8L194.6,111.8ZM197.1,106.3L198.4,104.9L200.2,103.8L202.0,104.9L203.3,106.3L202.0,107.7L200.2,108.8L198.4,107.7ZM200.8,101.8L202.1,100.3L203.9,99.2L205.7,100.3L207.0,101.8L205.7,103.4L203.9,104.5L202.1,103.4ZM204.6,96.9L205.9,95.3L207.7,94.1L209.5,95.3L210.8,96.9L209.5,98.6L207.7,99.8L205.9,98.6ZM208.4,91.5L209.7,89.6L211.5,88.3L213.3,89.6L214.6,91.5L213.3,93.3L211.5,94.6L209.7,93.3ZM212.1,85.2L213.4,83.1L215.2,81.7L217.0,83.1L218.3,85.2L217.0,87.3L215.2,88.8L213.4,87.3ZM215.9,77.8L217.2,75.3L219.0,73.6L220.8,75.3L222.1,77.8L220.8,80.2L219.0,81.9L217.2,80.2ZM219.6,68.0L220.9,65.2L222.7,63.2L224.5,65.2L225.9,68.0L224.5,70.8L222.7,72.8L220.9,70.8Z" fill="#ff0000" stroke="#ff0000" stroke-width="0.5" stroke-linejoin="round"/>
<path d="M104.5,178.8 105.3,178.2 106,177.7 106.8,177.1 107.6,176.5 108.3,176 109.1,175.4 109.9,174.9 110.7,174.3 111.5,173.7 112.3,173.2 113.1,172.6 113.9,172.1 114.7,171.5 115.5,171 116.3,170.4 117.1,169.9 117.9,169.3 118.7,168.8 119.5,168.2 120.3,167.7 121.2,167.1 122,166.5 122.8,166 123.6,165.4 124.5,164.9 125.3,164.3 126.1,163.8 127,163.2 127.8,162.7 128.6,162.1 129.5,161.6 130.3,161 131.1,160.5 132,159.9 132.8,159.4 133.7,158.8 134.5,158.3 135.4,157.7 136.2,157.1 137,156.6 137.9,156 138.7,155.5 139.6,154.9 140.4,154.3 141.3,153.8 142.1,153.2 143,152.7 143.8,152.1 144.7,151.5 145.5,151 146.4,150.4 147.2,149.8 148.1,149.3 148.9,148.7 149.8,148.1 150.6,147.5 151.5,147 152.3,146.4 153.2,145.8 154,145.2 154.8,144.7 155.7,144.1 156.5,143.5 157.4,142.9 158.2,142.3 159.1,141.7 159.9,141.1 160.7,140.5 161.6,139.9 162.4,139.4 163.2,138.8 164,138.2 164.9,137.6 165.7,136.9 166.5,136.3 167.3,135.7 168.2,135.1 169,134.5 169.8,133.9 170.6,133.3 171.4,132.7 172.2,132 173,131.4 173.8,130.8 174.6,130.1 175.4,129.5" fill="none" stroke="#ff0000" stroke-width="2.6"/>
<path d="M114.5,143.7L115.7,142.7L117.5,141.9L119.3,142.7L120.5,143.7L119.3,144.7L117.5,145.4L115.7,144.7ZM118.2,141.2L119.5,140.1L121.3,139.4L123.0,140.1L124.3,141.2L123.0,142.2L121.3,142.9L119.5,142.2ZM122.0,138.6L123.3,137.6L125.0,136.8L126.8,137.6L128.1,138.6L126.8,139.6L125.0,140.4L123.3,139.6ZM125.7,136.0L127.0,134.9L128.8,134.2L130.5,134.9L131.8,136.0L130.5,137.0L128.8,137.8L127.0,137.0ZM129.5,133.3L130.8,132.2L132.5,131.4L134.3,132.2L135.6,133.3L134.3,134.3L132.5,135.1L130.8,134.3ZM133.2,130.5L134.5,129.4L136.3,128.6L138.1,129.4L139.3,130.5L138.1,131.6L136.3,132.4L134.5,131.6ZM137.0,127.6L138.3,126.5L140.1,125.7L141.8,126.5L143.1,127.6L141.8,128.8L140.1,129.6L138.3,128.8ZM140.7,124.7L142.0,123.6L143.8,122.7L145.6,123.6L146.9,124.7L145.6,125.8L143.8,126.6L142.0,125.8ZM144.5,121.6L145.8,120.5L147.6,119.6L149.3,120.5L150.6,121.6L149.3,122.8L147.6,123.6L145.8,122.8ZM148.3,118.4L149.5,117.2L151.3,116.4L153.1,117.2L154.4,118.4L153.1,119.6L151.3,120.5L149.5,119.6ZM152.0,115.1L153.3,113.8L155.1,112.9L156.9,113.8L158.2,115.1L156.9,116.3L155.1,117.2L153.3,116.3ZM155.8,111.5L157.1,110.2L158.8,109.3L160.6,110.2L161.9,111.5L160.6,112.8L158.8,113.7L157.1,112.8ZM159.5,107.8L160.8,106.5L162.6,105.5L164.4,106.5L165.7,107.8L164.4,109.1L162.6,110.1L160.8,109.1ZM163.3,103.8L164.6,102.4L166.4,101.4L168.1,102.4L169.4,103.8L168.1,105.2L166.4,106.2L164.6,105.2ZM167.0,99.5L168.3,98.0L170.1,96.9L171.9,98.0L173.2,99.5L171.9,101.0L170.1,102.0L168.3,101.0ZM170.8,94.8L172.1,93.2L173.9,92.0L175.7,93.2L177.0,94.8L175.7,96.4L173.9,97.5L172.1,96.4ZM174.5,89.5L175.8,87.8L177.6,86.5L179.4,87.8L180.7,89.5L179.4,91.3L177.6,92.6L175.8,91.3ZM178.3,83.6L179.6,81.6L181.4,80.2L183.2,81.6L184.5,83.6L183.2,85.6L181.4,87.0L179.6,85.6ZM182.0,76.5L183.3,74.2L185.2,72.6L187.0,74.2L188.3,76.5L187.0,78.8L185.2,80.5L183.3,78.8ZM185.8,67.5L187.1,64.7L188.9,62.6L190.7,64.7L192.0,67.5L190.7,70.3L188.9,72.3L187.1,70.3Z" fill="#ff0000" stroke="#ff0000" stroke-width="0.5" stroke-linejoin="round"/>
<path d="M104.3,152.3 105,151.8 105.8,151.3 106.6,150.8 107.4,150.2 108.2,149.7 109,149.2 109.8,148.7 110.6,148.2 111.5,147.6 112.3,147.1 113.1,146.6 113.9,146 114.7,145.5 115.5,145 116.4,144.4 117.2,143.9 118,143.3 118.8,142.8 119.7,142.2 120.5,141.7 121.3,141.1 122.1,140.6 123,140 123.8,139.4 124.6,138.9 125.5,138.3 126.3,137.7 127.1,137.1 127.9,136.6 128.8,136 129.6,135.4 130.4,134.8 131.3,134.2 132.1,133.6 132.9,133 133.7,132.4 134.6,131.8 135.4,131.2 136.2,130.6 137,129.9 137.9,129.3 138.7,128.7 139.5,128.1 140.3,127.5 141.1,126.8 141.9,126.2 142.7,125.5 143.5,124.9" fill="none" stroke="#ff0000" stroke-width="2.6"/>
<path d="M114.5,119.7L115.7,118.5L117.5,117.6L119.3,118.5L120.5,119.7L119.3,120.9L117.5,121.8L115.7,120.9ZM118.2,116.3L119.5,115.1L121.3,114.2L123.0,115.1L124.3,116.3L123.0,117.5L121.3,118.4L119.5,117.5ZM122.0,112.9L123.2,111.7L125.0,110.8L126.8,111.7L128.1,112.9L126.8,114.1L125.0,115.0L123.2,114.1ZM125.7,109.4L127.0,108.2L128.8,107.3L130.5,108.2L131.8,109.4L130.5,110.7L128.8,111.6L127.0,110.7ZM129.5,105.8L130.8,104.5L132.5,103.6L134.3,104.5L135.6,105.8L134.3,107.1L132.5,108.0L130.8,107.1ZM133.2,102.1L134.5,100.8L136.3,99.8L138.1,100.8L139.4,102.1L138.1,103.4L136.3,104.4L134.5,103.4ZM137.0,98.2L138.3,96.8L140.1,95.8L141.8,96.8L143.1,98.2L141.8,99.6L140.1,100.6L138.3,99.6ZM140.7,94.1L142.0,92.6L143.8,91.6L145.6,92.6L146.9,94.1L145.6,95.5L143.8,96.5L142.0,95.5ZM144.5,89.6L145.8,88.1L147.6,87.0L149.4,88.1L150.7,89.6L149.4,91.1L147.6,92.2L145.8,91.1ZM148.2,84.7L149.5,83.0L151.3,81.8L153.1,83.0L154.4,84.7L153.1,86.4L151.3,87.6L149.5,86.4ZM152.0,79.2L153.3,77.4L155.1,76.0L156.9,77.4L158.2,79.2L156.9,81.0L155.1,82.4L153.3,81.0ZM155.7,72.7L157.0,70.5L158.8,69.0L160.6,70.5L161.9,72.7L160.6,74.9L158.8,76.4L157.0,74.9ZM159.5,64.3L160.8,61.5L162.6,59.5L164.4,61.5L165.7,64.3L164.4,67.1L162.6,69.1L160.8,67.1Z" fill="#ff0000" stroke="#ff0000" stroke-width="0.5" stroke-linejoin="round"/>
<path d="M114.5,95.2L115.7,93.9L117.5,92.9L119.3,93.9L120.5,95.2L119.3,96.6L117.5,97.6L115.7,96.6ZM118.2,91.0L119.5,89.6L121.3,88.6L123.0,89.6L124.3,91.0L123.0,92.5L121.3,93.5L119.5,92.5ZM122.0,86.5L123.2,85.0L125.0,83.9L126.8,85.0L128.1,86.5L126.8,88.1L125.0,89.2L123.2,88.1ZM125.7,81.6L127.0,80.0L128.8,78.8L130.6,80.0L131.8,81.6L130.6,83.3L128.8,84.5L127.0,83.3ZM129.5,76.1L130.7,74.3L132.5,73.0L134.3,74.3L135.6,76.1L134.3,78.0L132.5,79.3L130.7,78.0ZM133.2,69.7L134.5,67.6L136.3,66.1L138.1,67.6L139.4,69.7L138.1,71.8L136.3,73.4L134.5,71.8ZM136.9,61.6L138.2,58.8L140.1,56.8L141.9,58.8L143.2,61.6L141.9,64.3L140.1,66.3L138.2,64.3Z" fill="#ff0000" stroke="#ff0000" stroke-width="0.5" stroke-linejoin="round"/>
<path d="M114.4,66.4L115.7,64.2L117.5,62.6L119.3,64.2L120.6,66.4L119.3,68.6L117.5,70.1L115.7,68.6ZM118.1,57.7L119.4,54.9L121.3,52.9L123.1,54.9L124.4,57.7L123.1,60.5L121.3,62.6L119.4,60.5Z" fill="#ff0000" stroke="#ff0000" stroke-width="0.5" stroke-linejoin="round"/>
<path d="M144,39C147.844,42.8115 147.41,49.2795 144,55.5C140.59,49.2795 140.156,42.8115 144,39Z" fill="#ff0000"/>
<path d="M166.5,39C170.344,43.389 169.91,50.837 166.5,58C163.09,50.837 162.656,43.389 166.5,39Z" fill="#ff0000"/>
<path d="M193,39C196.844,44.313 196.41,53.329 193,62C189.59,53.329 189.156,44.313 193,39Z" fill="#ff0000"/>
<path d="M226.2,43C229.548,46.927 229.17,53.591 226.2,60C223.23,53.591 222.852,46.927 226.2,43Z" fill="#ff0000"/>
<path d="M267.7,47.5C270.924,51.427 270.56,58.091 267.7,64.5C264.84,58.091 264.476,51.427 267.7,47.5Z" fill="#ff0000"/>
<path d="M324.2,50C328.292,55.1975 327.83,64.0175 324.2,72.5C320.57,64.0175 320.108,55.1975 324.2,50Z" fill="#ff0000"/>
<path d="M321.2,38C323.432,39.2705 323.18,41.4265 321.2,43.5C319.22,41.4265 318.968,39.2705 321.2,38Z" fill="#ff0000"/>
<path d="M124.6,38C126.832,40.31 126.58,44.23 124.6,48C122.62,44.23 122.368,40.31 124.6,38Z" fill="#ff0000"/>
</g>
<path d="M118,41V493" stroke="#0a0a0a" stroke-width="1.35" fill="none"/>
<path d="M117.2,492.4H568.6" stroke="#0a0a0a" stroke-width="1.1" fill="none"/>
<path d="M117.2,41.6H568.6" stroke="#333" stroke-width="1.2" fill="none"/>
<path d="M567.85,41V493" stroke="#3a3a3a" stroke-width="1.5" fill="none"/>
<path d="M117.70,492.4v-7M117.70,41.6v7.3M132.71,492.4v-4.2M132.71,41.6v4.5M147.71,492.4v-4.2M147.71,41.6v4.5M162.72,492.4v-4.2M162.72,41.6v4.5M177.73,492.4v-4.2M177.73,41.6v4.5M192.74,492.4v-7M192.74,41.6v7.3M207.74,492.4v-4.2M207.74,41.6v4.5M222.75,492.4v-4.2M222.75,41.6v4.5M237.76,492.4v-4.2M237.76,41.6v4.5M252.76,492.4v-4.2M252.76,41.6v4.5M267.77,492.4v-7M267.77,41.6v7.3M282.78,492.4v-4.2M282.78,41.6v4.5M297.78,492.4v-4.2M297.78,41.6v4.5M312.79,492.4v-4.2M312.79,41.6v4.5M327.80,492.4v-4.2M327.80,41.6v4.5M342.81,492.4v-7M342.81,41.6v7.3M357.81,492.4v-4.2M357.81,41.6v4.5M372.82,492.4v-4.2M372.82,41.6v4.5M387.83,492.4v-4.2M387.83,41.6v4.5M402.83,492.4v-4.2M402.83,41.6v4.5M417.84,492.4v-7M417.84,41.6v7.3M432.85,492.4v-4.2M432.85,41.6v4.5M447.85,492.4v-4.2M447.85,41.6v4.5M462.86,492.4v-4.2M462.86,41.6v4.5M477.87,492.4v-4.2M477.87,41.6v4.5M492.88,492.4v-7M492.88,41.6v7.3M507.88,492.4v-4.2M507.88,41.6v4.5M522.89,492.4v-4.2M522.89,41.6v4.5M537.90,492.4v-4.2M537.90,41.6v4.5M552.90,492.4v-4.2M552.90,41.6v4.5M567.91,492.4v-7M567.91,41.6v7.3M117.6,52.20h4.2M568,52.20h-4.3M117.6,73.20h7.2M568,73.20h-7.3M117.6,94.20h4.2M568,94.20h-4.3M117.6,115.20h4.2M568,115.20h-4.3M117.6,136.20h4.2M568,136.20h-4.3M117.6,157.20h4.2M568,157.20h-4.3M117.6,178.20h7.2M568,178.20h-7.3M117.6,199.20h4.2M568,199.20h-4.3M117.6,220.20h4.2M568,220.20h-4.3M117.6,241.20h4.2M568,241.20h-4.3M117.6,262.20h4.2M568,262.20h-4.3M117.6,283.20h7.2M568,283.20h-7.3M117.6,304.20h4.2M568,304.20h-4.3M117.6,325.20h4.2M568,325.20h-4.3M117.6,346.20h4.2M568,346.20h-4.3M117.6,367.20h4.2M568,367.20h-4.3M117.6,388.20h7.2M568,388.20h-7.3M117.6,409.20h4.2M568,409.20h-4.3M117.6,430.20h4.2M568,430.20h-4.3M117.6,451.20h4.2M568,451.20h-4.3M117.6,472.20h4.2M568,472.20h-4.3" stroke="#1c1c1c" stroke-width="1.1" fill="none"/>
<rect x="38" y="206.5" width="43" height="15.7" fill="#ff0000"/>
<rect x="38" y="222.2" width="43" height="14.8" fill="#ffd026"/>
<rect x="38" y="237" width="43" height="14.3" fill="#8db033"/>
<rect x="38" y="251.3" width="43" height="15.4" fill="#5486c8"/>
<rect x="38" y="276.8" width="43" height="25.4" fill="#5486c8"/>
<rect x="38" y="302.2" width="43" height="27.6" fill="#72b8dc"/>
<rect x="38" y="329.8" width="43" height="31.3" fill="#e0bcf0"/>
<rect x="38" y="361.1" width="43" height="35.5" fill="#ffeafc"/>
<rect x="38" y="396.6" width="43" height="95.7" fill="#cfcfcf"/>
<g style="font-family:'Liberation Sans',sans-serif" fill="#2a2a2a" opacity="0.995">
<text x="340.2" y="25.8" font-size="16.2" text-anchor="middle" textLength="246" lengthAdjust="spacingAndGlyphs">SOMMERFELD ENHANCEMENT</text>
<text x="115.4" y="77.6" font-size="12.5" text-anchor="end">0.9</text>
<text x="115.4" y="182.6" font-size="12.5" text-anchor="end">0.8</text>
<text x="115.4" y="287.6" font-size="12.5" text-anchor="end">0.7</text>
<text x="115.4" y="392.6" font-size="12.5" text-anchor="end">0.6</text>
<text x="117.2" y="506" font-size="12.5" text-anchor="middle">-4.0</text>
<text x="192.2" y="506" font-size="12.5" text-anchor="middle">-3.5</text>
<text x="267.3" y="506" font-size="12.5" text-anchor="middle">-3.0</text>
<text x="342.3" y="506" font-size="12.5" text-anchor="middle">-2.5</text>
<text x="417.3" y="506" font-size="12.5" text-anchor="middle">-2.0</text>
<text x="492.4" y="506" font-size="12.5" text-anchor="middle">-1.5</text>
<text x="567.4" y="506" font-size="12.5" text-anchor="middle">-1.0</text>
<text x="32.8" y="226.2" font-size="12.6" text-anchor="end">5.00</text>
<text x="32.8" y="242.3" font-size="12.6" text-anchor="end">4.00</text>
<text x="32.8" y="257.9" font-size="12.6" text-anchor="end">3.00</text>
<text x="32.8" y="307.1" font-size="12.6" text-anchor="end">2.00</text>
<text x="32.8" y="333.7" font-size="12.6" text-anchor="end">1.00</text>
<text x="32.8" y="364.4" font-size="12.6" text-anchor="end">0.50</text>
<text x="32.8" y="400.8" font-size="12.6" text-anchor="end">0.25</text>
<text transform="translate(63.3,171.3) rotate(-90)" font-size="16.9" textLength="100.2" lengthAdjust="spacingAndGlyphs">BULK MASS</text>
<text transform="translate(81.3,171.3) rotate(-90)" font-size="16.9" textLength="103.2" lengthAdjust="spacingAndGlyphs">PARAMETER</text>
</g>
<g style="font-family:'Liberation Serif',serif" fill="#1a1a1a" opacity="0.995">
<text transform="translate(81.4,55.4) rotate(-90) scale(1.14,1)" font-size="23.5" font-style="italic">α</text>
<text transform="translate(63.6,472.2) rotate(-90)" font-size="21" textLength="24" lengthAdjust="spacingAndGlyphs">log</text>
<text transform="translate(69.6,447.3) rotate(-90)" font-size="15.6" textLength="15.2" lengthAdjust="spacingAndGlyphs">10</text>
<text transform="translate(63.6,431.2) rotate(-90)" font-size="21" font-style="italic" textLength="13.2" lengthAdjust="spacingAndGlyphs">S</text>
<text x="457.3" y="525.2" font-size="20.5" textLength="25" lengthAdjust="spacingAndGlyphs">log</text>
<text x="482.9" y="530.6" font-size="15.6" textLength="16.2" lengthAdjust="spacingAndGlyphs">10</text>
<text x="505.3" y="525.7" font-size="21" textLength="6" lengthAdjust="spacingAndGlyphs">(</text>
<text x="512.0" y="525.2" font-size="20.5" font-style="italic" textLength="12.4" lengthAdjust="spacingAndGlyphs">μ</text>
<path d="M525.2,531.6L533.5,510.2" stroke="#1a1a1a" stroke-width="1.15" fill="none"/>
<text x="535.0" y="525.2" font-size="20.5" font-style="italic" textLength="15.6" lengthAdjust="spacingAndGlyphs">m</text>
<text x="551.6" y="528.2" font-size="14" font-style="italic" textLength="9.4" lengthAdjust="spacingAndGlyphs">χ</text>
<text x="563.2" y="525.7" font-size="21" textLength="6" lengthAdjust="spacingAndGlyphs">)</text>
<text x="438.4" y="372.8" font-size="20.5"><tspan font-style="italic" textLength="11" lengthAdjust="spacingAndGlyphs">λ</tspan><tspan x="455.6" textLength="14.5" lengthAdjust="spacingAndGlyphs">=</tspan><tspan x="477.2" textLength="19.4" lengthAdjust="spacingAndGlyphs">10</tspan></text>
<text x="438.8" y="403.1" font-size="20.5"><tspan font-style="italic" textLength="10.4" lengthAdjust="spacingAndGlyphs">k</tspan><tspan x="455.6" textLength="14.5" lengthAdjust="spacingAndGlyphs">=</tspan><tspan x="477.2" textLength="19.4" lengthAdjust="spacingAndGlyphs">10</tspan><tspan x="504.3" textLength="35.4" lengthAdjust="spacingAndGlyphs">TeV</tspan></text>
<text x="439.2" y="435.8" font-size="20.5"><tspan font-style="italic" textLength="9.8" lengthAdjust="spacingAndGlyphs">v</tspan><tspan x="455.6" textLength="14.5" lengthAdjust="spacingAndGlyphs">=</tspan><tspan x="477.2" textLength="19.4" lengthAdjust="spacingAndGlyphs">10</tspan></text>
<text x="497.4" y="428.3" font-size="14.5" textLength="19" lengthAdjust="spacingAndGlyphs">−5</text>
<text x="441" y="466" font-size="20.5"><tspan font-style="italic">ℓ</tspan><tspan x="455.6" textLength="14.5" lengthAdjust="spacingAndGlyphs">=</tspan><tspan x="477.2" textLength="9.2" lengthAdjust="spacingAndGlyphs">0</tspan></text>
</g>
</svg>
</body></html>
